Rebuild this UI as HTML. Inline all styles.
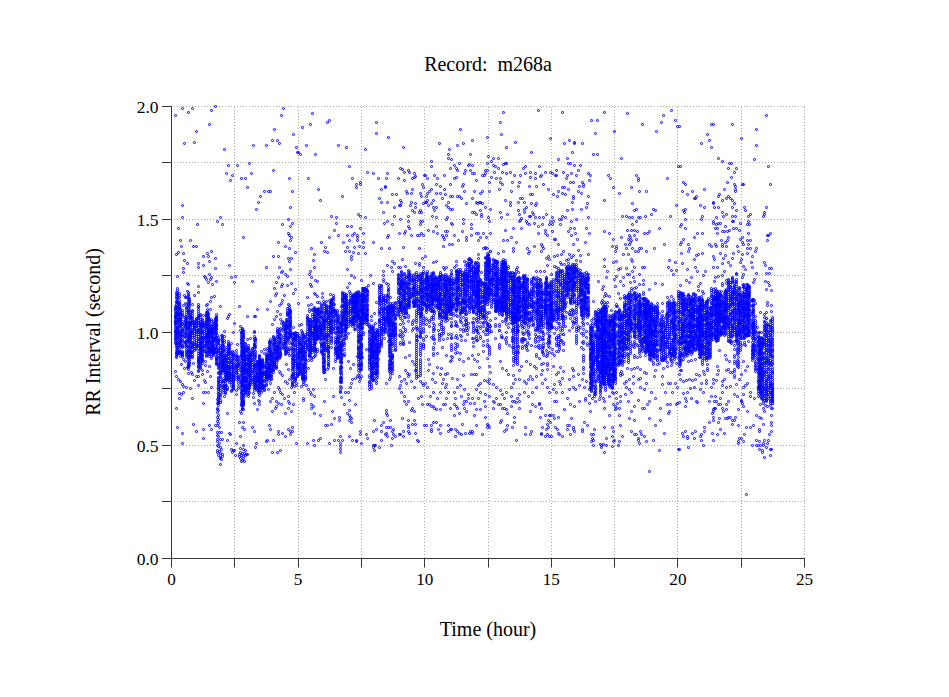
<!DOCTYPE html>
<html><head><meta charset="utf-8"><style>
html,body{margin:0;padding:0;background:#fff;width:949px;height:697px;overflow:hidden}
svg{display:block}
text{font-family:"Liberation Serif",serif;fill:#000}
</style></head><body>
<svg width="949" height="697" viewBox="0 0 949 697">
<defs><marker id="m" markerWidth="4" markerHeight="4" refX="1.5" refY="1.5" markerUnits="userSpaceOnUse" overflow="visible"><circle cx="2" cy="2" r="1.05" fill="none" stroke="#00f" stroke-width="1"/></marker></defs>
<rect width="949" height="697" fill="#fff"/>
<path d="M234.5 558V106M298.5 558V106M361.5 558V106M424.5 558V106M488.5 558V106M551.5 558V106M614.5 558V106M677.5 558V106M741.5 558V106M804.5 558V106M171 501.5H805M171 445.5H805M171 388.5H805M171 332.5H805M171 275.5H805M171 219.5H805M171 162.5H805M171 106.5H805" stroke="#aaa" stroke-width="1" stroke-dasharray="1 2" fill="none"/>
<polyline points="175,306 175,308 175,309 175,311 175,313 175,315 175,316 175,317 175,318 175,320 175,321 175,322 175,323 175,324 175,326 175,328 175,330 175,331 175,332 175,334 175,336 175,338 175,339 175,341 175,343 176,292 176,294 176,296 176,298 176,301 176,302 176,304 176,306 176,308 176,310 176,312 176,313 176,314 176,315 176,317 176,319 176,321 176,323 176,325 176,327 176,329 176,332 176,333 176,334 176,335 176,336 176,338 176,341 176,343 176,345 176,347 176,350 176,352 176,353 176,354 176,356 176,357 177,288 177,292 177,294 177,295 177,297 177,298 177,301 177,302 177,305 177,307 177,308 177,309 177,311 177,312 177,314 177,315 177,317 177,320 177,321 177,323 177,327 177,328 177,329 177,331 177,332 177,334 177,335 177,337 177,338 177,340 177,342 177,343 177,345 177,347 177,348 177,350 177,352 177,353 177,354 179,293 179,295 179,297 179,300 179,302 179,303 179,304 179,305 179,306 179,308 179,309 179,311 179,313 179,314 179,315 179,317 179,318 179,319 179,320 179,321 179,323 179,325 179,326 179,329 179,330 179,332 179,333 179,335 179,337 179,340 179,342 179,343 179,345 179,346 179,350 179,351 179,352 179,353 180,308 180,310 180,312 180,313 180,314 180,316 180,318 180,319 180,320 180,321 180,322 180,324 180,325 180,326 180,332 180,333 180,335 180,336 180,338 180,339 180,340 180,342 180,343 180,345 180,347 180,351 180,352 180,353 180,356 182,310 182,312 182,314 182,315 182,317 182,321 182,323 182,324 182,326 182,328 182,329 182,330 182,331 182,332 182,334 182,335 182,336 182,338 182,340 182,341 182,343 182,345 182,346 182,347 182,351 182,352 182,353 182,354 182,355 182,356 185,316 185,318 185,320 185,321 185,322 185,324 185,325 185,326 185,327 185,329 185,331 185,333 185,334 185,336 185,337 185,341 185,342 185,343 185,346 186,304 186,307 186,308 186,310 186,312 186,314 186,316 186,318 186,319 186,320 186,322 186,323 186,324 186,326 186,327 186,329 186,331 186,333 186,335 186,338 186,341 186,342 186,344 186,345 186,347 186,349 186,351 186,352 186,354 186,355 186,357 188,292 188,294 188,295 188,297 188,298 188,300 188,302 188,304 188,305 188,306 188,308 188,310 188,311 188,313 188,317 188,322 188,323 188,326 188,327 188,328 188,329 188,333 188,335 188,336 188,338 188,339 188,340 188,341 188,346 188,347 188,350 188,351 188,353 188,354 188,356 188,357 188,359 188,361 188,363 188,364 188,365 188,366 188,367 189,298 189,300 189,301 189,302 189,304 189,306 189,309 189,311 189,313 189,315 189,316 189,318 189,321 189,322 189,324 189,326 189,328 189,330 189,332 189,334 189,336 189,338 189,339 189,340 189,341 189,343 189,346 189,350 189,351 189,352 189,356 189,358 189,360 189,362 189,363 189,365 190,312 190,314 190,316 190,317 190,318 190,320 190,322 190,323 190,324 190,325 190,327 190,329 190,331 190,332 190,333 190,334 190,336 190,337 190,338 190,339 190,340 190,342 190,343 190,345 190,347 190,348 190,351 190,352 190,354 190,355 190,357 192,310 192,311 192,313 192,315 192,317 192,318 192,320 192,321 192,322 192,323 192,325 192,329 192,330 192,332 192,333 192,335 192,337 192,342 192,343 192,345 192,346 192,347 192,349 192,351 192,352 192,354 192,356 192,357 194,321 194,322 194,323 194,324 194,325 194,326 194,327 194,328 194,329 194,331 194,333 194,335 194,337 194,339 194,341 194,343 194,344 194,346 194,348 194,350 196,318 196,319 196,320 196,322 196,323 196,325 196,326 196,328 196,330 196,331 196,332 196,334 196,336 196,340 196,342 196,344 196,345 196,346 196,348 198,304 198,306 198,307 198,309 198,311 198,313 198,315 198,316 198,317 198,318 198,320 198,322 198,323 198,325 198,327 198,329 198,330 198,331 198,332 198,334 198,336 198,338 198,339 198,341 198,343 198,345 198,346 198,348 198,351 198,353 198,355 198,357 198,358 198,359 198,360 198,361 198,362 198,363 198,365 198,366 198,367 198,370 198,371 200,314 200,315 200,317 200,319 200,321 200,323 200,324 200,325 200,326 200,329 200,331 200,332 200,334 200,335 200,338 200,340 200,342 200,343 200,344 200,345 200,346 200,347 200,348 200,349 200,350 200,352 200,353 200,355 200,356 200,357 200,358 200,360 200,361 200,362 200,364 200,365 200,367 201,322 201,323 201,324 201,326 201,327 201,329 201,330 201,332 201,337 201,338 201,340 201,342 201,343 201,345 201,347 201,348 201,349 201,351 201,352 201,354 201,355 201,357 201,359 202,319 202,320 202,322 202,323 202,324 202,326 202,331 202,332 202,335 202,337 202,338 202,339 202,341 202,342 202,344 202,346 202,347 202,349 202,352 202,354 202,355 202,356 202,358 202,359 202,360 202,361 202,363 204,322 204,324 204,325 204,326 204,327 204,329 204,331 204,333 204,335 204,337 204,338 204,339 204,341 204,343 204,345 204,346 204,348 204,350 204,351 206,312 206,314 206,315 206,316 206,318 206,320 206,321 206,323 206,324 206,326 206,328 206,330 206,332 206,334 206,336 206,337 206,339 206,341 206,342 206,344 206,345 206,347 206,348 206,351 206,352 206,353 206,355 206,356 207,309 207,311 207,312 207,314 207,315 207,317 207,318 207,319 207,320 207,321 207,322 207,324 207,326 207,328 207,331 207,333 207,334 207,335 207,337 207,338 207,340 207,341 207,343 208,313 208,314 208,316 208,317 208,319 208,321 208,323 208,327 208,329 208,331 208,332 208,333 208,335 208,336 208,337 208,338 208,340 208,341 208,343 208,344 208,346 208,347 208,348 208,350 208,351 208,352 208,354 209,319 209,320 209,322 209,324 209,325 209,326 209,328 209,329 209,330 209,331 209,332 209,334 209,335 209,336 209,337 209,340 209,341 209,342 209,344 209,347 209,348 209,349 209,351 209,354 209,356 211,319 211,321 211,325 211,326 211,328 211,329 211,331 211,332 211,334 211,335 211,337 211,339 211,341 211,342 211,343 211,344 211,346 211,347 211,349 211,350 211,351 211,352 211,354 212,327 212,329 212,331 212,332 212,333 212,335 212,337 212,338 212,340 212,341 212,343 212,344 212,345 212,346 212,349 212,350 212,352 213,321 213,323 213,324 213,327 213,328 213,330 213,331 213,333 213,337 213,338 213,340 213,341 213,344 213,346 213,347 213,349 213,350 213,352 213,353 213,354 213,355 215,318 215,319 215,321 215,322 215,324 215,325 215,326 215,327 215,328 215,330 215,331 215,333 215,334 215,335 215,337 215,338 215,339 215,341 215,346 215,348 215,349 215,351 215,352 216,314 216,316 216,317 216,318 216,319 216,320 216,321 216,323 216,324 216,325 216,326 216,328 216,329 216,331 216,333 216,337 216,339 216,341 216,343 216,344 216,347 216,348 216,350 216,352 216,353 216,356 216,357 216,358 216,359 216,360 216,362 216,363 216,364 218,337 218,339 218,340 218,341 218,342 218,343 218,345 218,349 218,350 218,351 218,353 218,355 218,357 218,358 218,361 218,363 218,364 218,365 218,367 218,368 218,372 218,373 218,377 218,378 218,380 218,381 218,382 218,384 218,385 218,387 218,388 218,389 218,391 218,393 218,394 218,396 218,397 218,398 218,400 218,402 220,345 220,347 220,348 220,350 220,352 220,353 220,354 220,355 220,357 220,358 220,360 220,361 220,362 220,364 220,365 220,367 220,368 220,370 220,371 220,372 220,373 220,374 220,376 220,377 220,379 220,381 220,383 220,385 220,386 220,388 220,390 220,392 220,394 220,395 220,397 220,400 220,402 222,335 222,337 222,338 222,340 222,341 222,342 222,344 222,345 222,347 222,349 222,351 222,352 222,354 222,355 222,356 222,358 222,360 222,362 222,363 222,364 222,365 222,366 222,367 222,368 222,370 223,345 223,346 223,348 223,349 223,350 223,351 223,353 223,355 223,356 223,358 223,359 223,360 223,361 223,362 223,364 223,365 223,367 223,368 223,369 223,370 223,371 223,373 223,378 223,380 223,381 223,383 223,385 223,386 223,387 223,388 223,390 223,392 225,355 225,356 225,358 225,359 225,360 225,361 225,362 225,364 225,365 225,367 225,368 225,370 225,372 225,373 225,375 225,376 225,379 225,381 225,383 225,385 225,386 225,387 225,388 225,390 225,392 225,393 226,347 226,349 226,351 226,353 226,355 226,357 226,359 226,361 226,363 226,365 226,366 226,368 226,370 226,371 226,372 226,373 226,374 226,375 226,377 226,378 226,379 226,380 226,385 226,389 228,343 228,344 228,345 228,347 228,349 228,351 228,352 228,353 228,354 228,356 228,358 228,360 228,362 228,364 228,366 228,367 228,368 228,370 228,372 228,373 228,374 228,375 228,376 228,377 228,378 228,380 229,345 229,346 229,348 229,349 229,351 229,353 229,354 229,358 229,362 229,366 229,368 229,369 229,371 229,372 229,373 229,375 229,377 229,378 229,380 229,382 231,352 231,353 231,356 231,358 231,360 231,361 231,362 231,364 231,366 231,367 231,369 231,371 231,373 231,374 231,376 231,377 231,379 231,380 231,382 231,384 231,386 231,390 231,391 233,352 233,354 233,355 233,356 233,358 233,359 233,361 233,363 233,364 233,366 233,367 233,368 233,369 233,371 233,372 233,374 233,375 233,376 233,377 233,378 233,379 233,380 233,381 233,382 233,384 233,385 233,386 233,387 233,388 233,389 236,350 236,353 236,355 236,356 236,357 236,359 236,360 236,362 236,364 236,365 236,366 236,367 236,368 236,370 236,371 236,372 236,373 236,375 236,377 236,379 238,356 238,357 238,359 238,360 238,362 238,363 238,364 238,365 238,366 238,368 238,370 238,374 238,376 238,377 238,378 238,379 238,381 238,383 238,386 238,388 241,332 241,333 241,335 241,337 241,339 241,340 241,342 241,343 241,345 241,347 241,350 241,352 241,354 241,355 241,356 241,358 241,360 241,362 241,363 241,365 241,367 241,368 241,370 241,371 241,373 241,375 241,376 241,378 241,380 241,381 241,382 241,383 241,385 241,386 241,388 241,390 241,392 241,393 241,395 241,397 241,399 241,402 241,404 241,405 242,328 242,329 242,331 242,333 242,335 242,337 242,339 242,341 242,343 242,344 242,345 242,347 242,348 242,350 242,351 242,352 242,354 242,355 242,356 242,358 242,359 242,361 242,365 242,367 242,368 242,369 242,371 242,373 242,375 242,378 242,379 242,381 242,383 242,385 242,387 242,389 242,390 242,393 242,395 242,396 242,397 242,399 242,400 242,401 242,403 242,405 242,408 242,409 243,330 243,331 243,333 243,334 243,335 243,336 243,337 243,338 243,341 243,342 243,346 243,347 243,348 243,349 243,352 243,353 243,354 243,356 243,357 243,359 243,361 243,363 243,365 243,367 243,369 243,371 243,373 243,377 243,379 243,380 243,382 243,385 243,386 243,388 243,390 243,392 243,394 243,395 243,397 243,399 243,401 243,402 243,404 244,347 244,349 244,351 244,352 244,354 244,355 244,356 244,357 244,359 244,360 244,362 244,364 244,365 244,367 244,369 244,371 244,372 244,375 244,377 244,378 244,379 244,380 244,381 244,383 244,385 244,386 244,388 244,389 245,343 245,344 245,346 245,350 245,351 245,355 245,357 245,359 245,363 245,364 245,365 245,367 245,369 245,370 245,374 245,376 245,377 245,379 245,380 245,381 245,384 245,386 245,387 245,388 245,389 245,390 245,391 245,392 245,393 245,395 246,347 246,348 246,350 246,351 246,353 246,355 246,357 246,359 246,361 246,363 246,364 246,368 246,369 246,371 246,372 246,373 246,377 246,378 246,380 246,381 246,383 246,385 246,386 246,388 246,389 248,345 248,347 248,348 248,349 248,351 248,354 248,356 248,358 248,359 248,360 248,362 248,363 248,365 248,366 248,368 248,369 248,370 248,371 248,372 248,373 248,374 248,375 248,377 248,379 248,381 248,383 248,385 248,387 248,388 248,390 248,391 248,393 248,394 248,396 249,350 249,352 249,354 249,356 249,357 249,359 249,360 249,361 249,362 249,364 249,365 249,366 249,368 249,370 249,371 249,373 249,374 249,375 249,376 249,380 249,382 249,383 249,384 249,385 249,386 249,387 249,388 249,392 250,353 250,354 250,355 250,356 250,357 250,359 250,361 250,362 250,364 250,365 250,366 250,367 250,369 250,370 250,371 250,374 250,377 250,378 250,380 250,382 252,348 252,349 252,351 252,352 252,354 252,355 252,357 252,359 252,360 252,362 252,364 252,367 252,369 252,371 252,372 252,375 252,377 252,379 252,380 252,382 252,384 254,331 254,332 254,336 254,338 254,340 254,343 254,344 254,345 254,346 254,347 254,349 254,352 254,354 254,355 254,357 254,359 254,364 254,365 254,366 254,368 254,369 254,371 254,373 254,376 254,378 254,380 254,381 254,382 254,384 254,386 254,388 254,390 255,338 255,339 255,340 255,342 255,345 255,347 255,351 255,353 255,355 255,357 255,360 255,362 255,364 255,366 255,368 255,370 255,372 255,374 255,376 255,377 255,378 255,380 255,382 255,383 255,384 255,386 255,388 257,361 257,363 257,364 257,365 257,367 257,369 257,371 257,373 257,374 257,375 257,377 257,379 257,380 257,381 257,383 257,385 257,386 257,388 257,390 258,361 258,362 258,363 258,365 258,367 258,368 258,370 258,372 258,373 258,376 258,377 258,378 258,379 258,381 258,384 258,385 258,387 258,388 258,390 258,392 259,355 259,356 259,357 259,358 259,359 259,360 259,361 259,362 259,364 259,366 259,367 259,369 259,370 259,374 259,375 259,377 259,379 259,381 259,382 259,384 259,387 259,388 259,390 259,391 259,393 259,395 260,361 260,362 260,363 260,364 260,365 260,367 260,369 260,370 260,373 260,374 260,377 260,379 260,380 260,381 260,382 260,384 261,360 261,362 261,363 261,364 261,365 261,366 261,368 261,369 261,372 261,373 261,375 261,376 261,377 261,378 261,380 261,383 261,384 261,385 261,386 261,388 262,359 262,360 262,361 262,362 262,364 262,365 262,366 262,368 262,370 262,372 262,373 262,374 262,375 262,380 262,381 262,382 262,384 262,385 262,387 262,388 262,390 264,363 264,365 264,366 264,367 264,371 264,372 264,373 264,374 264,376 264,378 264,380 264,381 264,385 264,386 264,387 264,389 264,390 266,355 266,356 266,358 266,359 266,360 266,361 266,363 266,367 266,368 266,370 266,371 266,372 266,374 266,375 266,376 266,377 266,379 266,380 266,382 266,384 266,385 267,348 267,350 267,353 267,354 267,356 267,357 267,358 267,359 267,362 267,363 267,365 267,366 267,368 267,369 267,371 267,372 267,374 267,375 267,377 267,378 269,341 269,342 269,343 269,345 269,347 269,348 269,350 269,351 269,355 269,356 269,358 269,359 269,361 269,363 269,364 269,365 269,366 269,367 269,368 269,369 269,371 269,373 269,374 269,375 269,376 269,377 269,378 269,380 270,339 270,341 270,342 270,343 270,345 270,347 270,349 270,350 270,351 270,352 270,353 270,355 270,357 270,359 270,360 270,364 270,365 270,367 270,369 270,371 270,372 270,376 271,352 271,354 271,355 271,357 271,359 271,360 271,362 271,363 271,365 271,367 271,369 271,370 271,371 271,373 271,375 271,376 271,378 271,379 273,336 273,337 273,339 273,341 273,343 273,344 273,345 273,347 273,349 273,351 273,353 273,355 273,357 273,358 273,361 273,362 273,363 273,365 273,366 273,368 273,369 273,370 273,372 274,338 274,339 274,340 274,342 274,343 274,345 274,347 274,349 274,350 274,352 274,353 274,355 274,357 274,359 274,360 274,362 274,363 274,364 274,365 274,366 276,338 276,340 276,342 276,344 276,346 276,347 276,348 276,350 276,352 276,353 276,357 276,358 276,360 276,362 276,364 276,366 276,367 276,368 277,328 277,330 277,331 277,332 277,334 277,336 277,337 277,341 277,343 277,345 277,346 277,347 277,349 277,350 277,351 277,352 277,354 277,355 277,356 277,357 277,358 279,329 279,331 279,333 279,334 279,335 279,337 279,338 279,340 279,342 279,343 279,345 279,347 279,348 279,350 279,353 279,355 279,357 279,358 280,328 280,330 280,334 280,336 280,338 280,339 280,341 280,342 280,344 280,346 280,348 280,350 280,352 280,353 280,354 280,355 280,356 283,322 283,323 283,325 283,326 283,328 283,329 283,331 283,335 283,337 283,339 283,341 283,343 283,344 283,345 283,347 283,348 285,324 285,326 285,328 285,329 285,330 285,332 285,334 285,335 285,337 285,339 285,341 285,342 285,343 285,344 285,347 285,348 285,350 285,351 285,353 285,354 286,319 286,321 286,322 286,324 286,325 286,326 286,327 286,328 286,329 286,332 286,333 286,336 286,337 286,338 286,340 286,342 286,345 286,347 286,349 286,351 286,352 287,308 287,310 287,312 287,313 287,314 287,315 287,319 287,321 287,323 287,325 287,326 287,328 287,332 287,334 289,305 289,307 289,309 289,310 289,312 289,314 289,315 289,317 289,319 289,321 289,323 289,325 289,326 289,328 289,330 289,332 289,333 289,334 290,310 290,311 290,312 290,313 290,315 290,317 290,318 290,320 290,321 290,322 290,323 290,324 290,325 290,326 290,328 290,330 290,331 290,333 290,334 290,335 290,336 288,337 288,339 288,349 288,351 288,353 289,337 289,341 289,343 289,347 289,349 289,355 292,333 292,335 292,337 292,339 292,342 292,343 292,344 292,346 292,348 292,349 292,350 292,352 292,354 292,356 292,358 292,359 292,361 292,363 292,365 292,367 292,369 292,371 292,374 292,375 292,377 292,378 292,380 292,382 292,383 292,384 292,385 293,333 293,334 293,336 293,338 293,339 293,340 293,343 293,345 293,349 293,351 293,353 293,355 293,356 293,358 293,359 293,361 293,363 293,364 293,366 293,367 293,369 293,373 293,374 293,375 293,377 295,332 295,333 295,334 295,335 295,336 295,337 295,338 295,339 295,340 295,341 295,344 295,345 295,347 295,349 295,350 295,353 295,355 295,356 295,358 295,360 295,361 295,363 295,365 295,367 295,371 295,373 295,377 295,378 295,379 295,380 297,333 297,335 297,336 297,338 297,340 297,342 297,344 297,346 297,348 297,350 297,352 297,353 297,355 297,356 297,358 297,359 297,362 297,363 297,364 297,365 297,366 297,367 297,368 297,369 297,371 297,373 297,374 297,375 297,376 299,335 299,337 299,338 299,340 299,342 299,343 299,345 299,347 299,349 299,350 299,351 299,352 299,353 299,354 299,356 299,357 299,359 299,361 299,363 299,365 299,366 299,368 299,369 299,371 299,372 299,373 299,374 300,340 300,343 300,344 300,346 300,348 300,349 300,350 300,352 300,353 300,355 300,357 300,359 300,361 300,363 300,364 300,366 300,367 300,369 300,371 300,373 302,332 302,333 302,335 302,337 302,338 302,340 302,341 302,343 302,345 302,346 302,348 302,350 302,351 302,352 302,354 302,355 302,356 302,358 302,359 302,361 302,364 302,368 302,370 302,372 302,374 302,375 302,376 302,377 302,378 302,379 303,335 303,336 303,338 303,342 303,344 303,346 303,347 303,348 303,350 303,352 303,353 303,355 303,356 303,358 303,360 303,364 303,365 303,366 303,367 303,368 303,370 303,372 303,373 303,375 303,377 303,378 303,380 303,382 305,334 305,336 305,337 305,339 305,341 305,342 305,343 305,345 305,347 305,349 305,351 305,352 305,353 305,355 305,356 305,358 305,359 305,360 305,362 305,363 305,364 305,366 305,367 305,368 305,370 305,371 305,372 305,374 305,376 305,377 305,378 305,379 307,315 307,317 307,318 307,320 307,321 307,323 307,324 307,326 307,329 307,331 307,333 307,334 307,336 307,339 307,340 307,342 307,344 307,345 307,346 307,348 307,349 309,319 309,321 309,322 309,324 309,325 309,326 309,327 309,328 309,329 309,330 309,332 309,334 309,335 309,336 309,338 309,339 309,340 309,341 309,342 309,344 309,346 309,348 309,349 309,350 309,351 309,353 309,354 309,355 309,356 310,319 310,321 310,323 310,325 310,327 310,329 310,330 310,331 310,332 310,333 310,335 310,337 310,339 310,341 310,342 310,344 310,345 310,346 310,347 310,349 310,350 310,351 310,353 310,355 310,357 312,309 312,310 312,314 312,316 312,319 312,321 312,322 312,323 312,325 312,326 312,328 312,330 312,332 312,333 312,334 312,335 312,337 312,338 312,341 312,343 312,345 312,347 312,348 312,350 312,352 314,307 314,308 314,310 314,311 314,313 314,315 314,316 314,318 314,319 314,320 314,321 314,325 314,326 314,327 314,328 314,330 314,332 314,333 314,334 314,335 314,336 314,338 314,339 314,340 314,341 314,343 314,344 314,345 314,346 314,348 314,350 315,309 315,310 315,312 315,314 315,316 315,318 315,320 315,323 315,324 315,325 315,326 315,327 315,328 315,329 315,330 315,331 315,333 315,336 315,338 315,340 315,342 315,343 315,348 315,349 315,350 315,351 315,353 315,355 316,309 316,311 316,312 316,317 316,319 316,321 316,322 316,324 316,326 316,327 316,328 316,330 316,331 316,333 316,334 316,335 316,336 316,337 316,339 317,309 317,310 317,312 317,314 317,315 317,317 317,319 317,321 317,323 317,326 317,327 317,328 317,329 317,331 317,335 317,336 317,337 317,338 317,339 318,308 318,309 318,310 318,312 318,313 318,314 318,316 318,319 318,320 318,322 318,324 318,326 318,329 318,330 318,332 318,333 318,334 318,336 318,337 320,311 320,312 320,314 320,316 320,317 320,321 320,322 320,324 320,325 320,326 320,327 320,328 320,329 320,330 320,331 320,333 320,335 320,338 320,339 320,342 321,304 321,305 321,307 321,308 321,310 321,311 321,312 321,313 321,315 321,317 321,318 321,323 321,325 321,327 321,329 321,330 321,332 321,333 321,334 321,335 321,337 321,339 321,343 321,344 321,345 321,346 321,348 321,350 321,351 321,352 323,317 323,319 323,320 323,321 323,323 323,324 323,326 323,327 323,329 323,332 323,334 323,336 323,338 323,339 323,342 323,344 323,345 323,347 323,348 323,350 323,354 323,355 323,357 323,358 323,359 323,361 323,362 323,363 323,365 323,366 323,367 323,368 323,370 323,372 324,303 324,304 324,306 324,308 324,310 324,312 324,313 324,315 324,316 324,318 324,320 324,321 324,322 324,323 324,325 324,326 324,328 324,329 324,331 324,333 324,335 324,336 324,338 324,342 324,343 324,345 324,346 324,348 324,349 324,350 324,352 324,354 324,356 324,358 324,360 324,361 324,362 324,364 324,366 324,368 324,369 324,370 324,372 326,305 326,306 326,307 326,309 326,310 326,312 326,313 326,315 326,318 326,319 326,320 326,321 326,323 326,326 326,328 326,332 326,334 326,335 326,336 326,337 326,339 326,340 326,342 326,344 326,346 326,348 326,349 326,350 328,307 328,309 328,311 328,312 328,314 328,315 328,316 328,317 328,318 328,320 328,322 328,323 328,324 328,326 328,328 328,330 328,332 328,334 328,335 328,336 328,338 328,340 328,342 328,344 328,346 328,347 328,348 328,350 328,351 328,352 328,353 328,355 328,356 328,357 328,359 328,361 328,363 328,364 328,365 330,302 330,303 330,305 330,307 330,308 330,310 330,312 330,313 330,314 330,315 330,317 330,319 330,320 330,321 330,322 330,323 330,324 330,326 330,328 330,329 330,331 330,332 331,299 331,300 331,301 331,302 331,303 331,305 331,306 331,308 331,309 331,311 331,312 331,313 331,314 331,316 331,318 331,320 331,321 331,323 331,324 331,326 331,327 331,329 331,330 331,332 331,333 331,335 331,337 331,338 331,340 331,341 333,295 333,297 333,298 333,300 333,303 333,304 333,306 333,308 333,309 333,310 333,311 333,312 333,314 333,316 333,317 333,320 333,321 333,324 333,326 333,328 333,329 333,331 335,310 335,311 335,313 335,314 335,315 335,317 335,320 335,321 335,323 335,325 335,328 335,332 335,333 335,337 335,339 335,341 335,342 335,344 335,347 335,348 335,349 335,350 335,352 335,353 335,355 335,359 335,361 337,312 337,315 337,317 337,319 337,321 337,322 337,325 337,327 337,328 337,329 337,331 337,333 337,335 337,337 337,338 337,339 337,340 337,341 337,342 337,343 337,345 337,347 337,348 337,350 337,351 337,352 337,353 337,354 337,356 337,357 337,358 338,315 338,317 338,319 338,320 338,322 338,324 338,327 338,328 338,330 338,331 338,332 338,334 338,336 338,338 338,339 338,341 338,342 338,344 338,346 338,347 338,348 338,349 338,352 338,354 338,355 338,356 338,357 340,322 340,323 340,324 340,326 340,329 340,331 340,332 340,334 340,336 340,337 340,340 340,342 340,344 340,345 340,347 340,349 340,350 340,351 340,353 340,357 340,359 340,361 340,362 340,366 340,368 340,369 340,371 340,373 340,377 340,378 340,380 340,381 340,382 340,386 340,389 340,391 340,392 341,306 341,311 341,314 341,316 341,318 341,321 341,324 341,325 341,326 341,328 341,330 341,332 341,335 341,342 341,344 341,345 341,346 341,347 341,349 341,351 341,353 341,354 341,355 341,357 341,358 341,359 341,361 341,362 341,363 341,366 341,367 341,368 341,371 341,373 341,375 341,377 341,378 341,379 341,381 341,382 342,293 342,295 342,297 342,298 342,299 342,300 342,301 342,303 342,305 342,306 342,308 342,310 342,312 342,313 342,315 342,316 342,318 342,319 342,321 342,322 342,323 342,325 342,328 342,329 342,331 342,332 344,295 344,297 344,298 344,300 344,302 344,304 344,306 344,307 344,309 344,310 344,312 344,313 344,314 344,316 344,317 344,318 344,320 344,322 344,324 344,325 345,294 345,296 345,297 345,299 345,301 345,302 345,304 345,305 345,307 345,308 345,309 345,310 345,311 345,312 345,313 345,315 345,317 345,319 345,320 345,322 345,324 345,325 345,327 345,328 345,329 345,330 345,331 345,332 345,334 345,335 345,337 346,294 346,296 346,297 346,299 346,300 346,302 346,305 346,306 346,307 346,308 346,310 346,311 346,313 346,314 346,316 346,318 346,319 346,320 346,321 346,323 346,324 346,326 346,327 346,328 342,336 342,340 342,346 342,350 343,339 343,343 343,355 344,339 344,343 344,345 344,349 344,353 344,355 348,301 348,303 348,304 348,306 348,308 348,310 348,312 348,313 348,315 348,317 348,319 348,321 348,323 348,326 350,293 350,295 350,297 350,299 350,300 350,301 350,302 350,303 350,306 350,308 350,310 350,311 350,313 350,316 350,319 350,320 350,321 350,322 350,324 352,296 352,297 352,299 352,301 352,302 352,304 352,306 352,307 352,309 352,311 352,312 352,314 352,317 352,319 352,320 352,321 352,322 352,324 352,326 353,294 353,295 353,296 353,297 353,298 353,299 353,301 353,302 353,303 353,304 353,306 353,307 353,308 353,309 353,310 353,313 353,316 353,317 353,318 353,319 353,323 353,324 354,295 354,296 354,297 354,298 354,299 354,300 354,302 354,304 354,305 354,306 354,308 354,310 354,312 354,314 354,316 354,317 354,318 354,320 354,322 355,293 355,295 355,297 355,301 355,302 355,303 355,305 355,307 355,309 355,311 355,312 355,313 355,315 355,317 355,321 355,323 355,325 355,327 355,329 356,292 356,293 356,295 356,296 356,297 356,299 356,300 356,301 356,302 356,303 356,304 356,306 356,307 356,309 356,312 356,313 356,315 356,319 356,321 357,294 357,296 357,298 357,300 357,301 357,303 357,305 357,307 357,308 357,310 357,311 357,313 357,315 357,316 357,317 357,319 358,291 358,292 358,294 358,295 358,296 358,297 358,298 358,300 358,301 358,303 358,304 358,306 358,308 358,310 358,311 358,313 358,314 358,315 358,317 358,318 358,320 358,322 358,324 358,325 358,326 358,327 358,329 358,331 358,333 358,335 358,336 358,337 358,339 358,340 358,341 358,342 358,344 358,346 358,347 358,348 358,349 358,350 358,352 358,353 358,354 358,356 358,357 358,359 358,361 358,364 358,365 358,367 358,370 360,293 360,295 360,296 360,298 360,300 360,302 360,305 360,306 360,308 360,310 360,312 360,314 360,316 360,318 360,319 360,320 360,322 360,323 360,324 360,326 360,327 360,329 360,331 360,333 360,335 360,336 360,337 360,339 360,341 360,342 360,347 360,348 360,350 360,352 360,354 360,355 360,357 360,358 360,360 360,362 360,364 360,365 360,366 360,368 360,369 360,370 361,294 361,296 361,298 361,300 361,301 361,302 361,304 361,305 361,308 361,309 361,310 361,312 361,313 361,316 361,317 361,319 361,320 361,322 361,323 361,324 361,326 361,328 361,330 361,334 361,335 361,336 361,338 361,339 361,343 361,344 361,345 361,346 361,347 361,348 361,350 361,352 361,353 361,354 361,356 361,357 361,358 361,361 361,363 361,364 361,365 361,367 361,369 362,288 362,290 362,292 362,294 362,296 362,298 362,301 362,305 362,307 362,308 362,310 362,312 362,314 362,315 362,316 362,317 362,319 362,321 362,322 362,323 362,325 362,327 362,328 363,288 363,289 363,290 363,293 363,294 363,295 363,296 363,298 363,299 363,301 363,303 363,305 363,307 363,308 363,309 363,310 363,312 363,313 363,314 363,316 363,318 363,320 363,323 364,290 364,291 364,293 364,295 364,297 364,298 364,300 364,301 364,303 364,305 364,307 364,309 364,311 364,313 364,315 364,316 364,317 364,319 364,320 364,322 366,287 366,289 366,290 366,291 366,295 366,296 366,298 366,299 366,301 366,303 366,305 366,307 366,309 366,310 366,312 366,313 366,314 366,315 366,317 366,318 366,319 366,320 366,322 366,324 367,290 367,291 367,292 367,294 367,295 367,297 367,299 367,301 367,304 367,305 367,307 367,309 367,310 367,312 367,314 367,315 367,317 367,319 367,320 367,322 369,326 369,327 369,330 369,331 369,332 369,334 369,336 369,338 369,339 369,341 369,342 369,344 369,345 369,347 369,348 369,349 369,350 369,351 369,353 369,355 369,356 369,358 369,359 369,360 369,362 369,363 369,365 369,367 369,369 369,375 369,377 369,381 369,382 369,384 369,386 371,326 371,328 371,329 371,333 371,335 371,337 371,339 371,340 371,342 371,343 371,344 371,345 371,346 371,348 371,349 371,350 371,351 371,352 371,353 371,354 371,355 371,356 371,357 371,358 371,360 371,361 371,363 371,364 371,365 371,366 371,367 371,368 371,369 371,371 371,372 371,373 371,375 371,376 371,378 371,379 371,381 371,384 371,386 371,388 372,327 372,329 372,331 372,333 372,334 372,336 372,338 372,339 372,340 372,341 372,342 372,346 372,347 372,348 372,350 372,351 372,352 372,353 372,354 372,356 372,357 372,359 372,364 372,365 372,366 372,368 372,370 372,372 372,373 372,374 372,376 372,378 373,332 373,336 373,338 373,340 373,342 373,344 373,346 373,347 373,349 373,350 373,351 373,352 373,355 373,356 373,357 373,362 373,363 373,365 373,366 373,367 373,369 373,373 373,379 373,380 374,332 374,334 374,335 374,337 374,338 374,340 374,343 374,344 374,346 374,348 374,350 374,351 374,352 374,353 374,355 374,357 374,359 374,360 374,363 374,364 374,366 374,368 374,370 374,372 374,373 374,375 374,378 376,332 376,333 376,335 376,336 376,337 376,339 376,340 376,342 376,344 376,346 376,347 376,349 376,350 376,351 376,353 376,354 376,356 376,357 376,358 376,360 376,362 376,363 376,365 376,366 376,369 376,371 376,372 376,373 376,374 376,378 376,381 377,330 377,331 377,332 377,334 377,336 377,338 377,340 377,342 377,344 377,345 377,346 377,347 377,348 377,350 377,351 377,352 377,354 377,355 377,357 377,358 377,360 377,362 377,363 377,365 377,366 377,367 377,369 377,370 377,372 377,373 377,375 377,377 379,285 379,287 379,288 379,290 379,292 379,294 379,296 379,297 379,298 379,299 379,300 379,301 379,303 379,304 379,307 379,309 379,311 379,312 379,313 379,315 379,319 379,320 379,321 379,322 379,324 379,326 379,328 379,330 379,332 379,334 379,335 379,337 379,339 379,341 379,343 379,344 379,345 379,347 379,348 379,350 379,351 381,285 381,286 381,288 381,290 381,292 381,294 381,296 381,298 381,300 381,301 381,303 381,305 381,308 381,309 381,311 381,313 381,316 381,318 381,320 381,323 381,325 381,327 381,328 381,330 381,331 381,333 381,334 381,336 381,338 381,340 381,341 381,343 381,344 381,346 383,295 383,297 383,298 383,299 383,300 383,302 383,304 383,306 383,308 383,309 383,310 383,312 383,313 383,315 383,316 383,317 383,318 383,319 383,321 383,323 383,324 383,326 383,328 383,329 383,330 383,331 383,334 385,295 385,298 385,300 385,301 385,303 385,306 385,308 385,309 385,311 385,313 385,315 385,317 385,318 385,319 385,320 385,321 385,322 385,324 385,325 385,327 385,328 385,329 385,331 385,332 387,295 387,296 387,299 387,302 387,306 387,308 387,310 387,311 387,312 387,313 387,314 387,316 387,317 387,318 387,322 388,287 388,289 388,290 388,292 388,294 388,296 388,298 388,300 388,303 388,306 388,308 388,309 388,311 388,312 388,313 388,315 388,316 388,317 388,318 388,319 388,320 388,321 388,322 388,323 388,325 388,326 388,329 388,331 388,333 389,306 389,308 389,309 389,312 389,313 389,315 389,317 389,319 389,320 389,321 389,322 389,324 389,325 389,327 389,329 389,330 389,332 389,334 389,335 389,337 389,339 389,341 389,344 389,345 389,346 389,348 389,349 389,351 389,352 389,354 389,356 389,360 389,362 389,364 389,365 389,367 389,368 389,369 389,371 390,303 390,305 390,306 390,308 390,309 390,310 390,312 390,313 390,315 390,317 390,318 390,320 390,322 390,323 390,325 390,327 390,331 390,333 390,334 390,335 390,336 390,338 390,339 390,341 390,342 390,344 390,345 390,348 390,350 390,352 390,353 390,355 390,356 390,357 390,359 390,360 390,361 390,363 390,364 390,366 390,368 390,370 390,372 390,374 390,377 392,303 392,305 392,307 392,308 392,309 392,310 392,311 392,313 392,315 392,318 392,320 392,322 392,323 392,325 392,326 392,328 392,329 392,330 392,332 392,333 392,335 392,337 392,339 392,341 392,343 392,344 392,346 392,350 392,354 392,355 392,356 392,357 392,358 392,360 392,362 392,363 392,364 392,366 392,367 392,369 392,370 392,373 393,305 393,306 393,307 393,309 393,311 393,313 393,315 393,317 393,319 393,321 393,323 393,324 393,325 393,327 393,329 393,330 393,331 393,333 393,335 393,336 395,303 395,305 395,307 395,308 395,310 395,312 395,314 395,315 395,317 395,318 395,319 395,323 395,324 395,326 395,327 395,328 395,329 395,330 395,332 395,333 395,334 395,335 395,337 395,339 395,341 395,343 395,345 395,347 395,349 395,350 398,274 398,275 398,277 398,278 398,279 398,280 398,282 398,283 398,284 398,287 398,289 398,290 398,292 398,293 398,297 398,299 398,301 398,302 398,304 398,306 398,308 398,309 398,311 398,312 398,314 398,315 400,279 400,283 400,284 400,285 400,287 400,288 400,290 400,292 400,293 400,294 400,296 400,298 400,300 400,302 400,303 400,304 400,305 400,306 400,307 400,308 400,310 401,271 401,272 401,274 401,275 401,276 401,278 401,280 401,281 401,282 401,283 401,285 401,286 401,287 401,288 401,289 401,291 401,295 401,297 401,301 401,302 401,304 401,305 401,307 401,309 401,310 403,279 403,281 403,282 403,284 403,286 403,289 403,290 403,292 403,294 403,295 403,298 403,299 403,301 403,303 403,305 403,307 403,309 404,273 404,274 404,276 404,278 404,280 404,282 404,283 404,284 404,286 404,289 404,290 404,291 404,292 404,294 404,295 404,296 404,297 404,298 404,299 404,300 404,302 404,304 404,306 404,307 404,308 404,309 404,310 406,276 406,277 406,279 406,282 406,283 406,285 406,286 406,287 406,288 406,290 406,292 406,293 406,295 406,299 406,300 406,302 406,304 406,305 406,306 406,308 406,309 406,311 406,312 406,313 400,312 400,316 400,318 400,324 400,330 400,334 400,336 400,342 400,344 403,311 403,313 403,315 403,323 403,327 403,335 403,341 403,343 408,274 408,276 408,277 408,281 408,283 408,284 408,287 408,288 408,290 408,292 408,294 408,296 408,298 408,299 408,300 408,302 408,304 408,305 409,271 409,273 409,274 409,276 409,277 409,279 409,280 409,282 409,284 409,288 409,290 409,292 409,294 409,296 409,297 409,298 409,300 409,301 409,302 409,304 409,305 409,307 411,275 411,277 411,279 411,280 411,283 411,287 411,289 411,291 411,293 411,294 411,296 411,297 413,275 413,277 413,279 413,280 413,281 413,284 413,287 413,288 413,289 413,291 413,293 413,294 413,295 413,300 413,301 413,302 413,303 413,306 414,274 414,278 414,280 414,282 414,284 414,286 414,287 414,288 414,289 414,291 414,293 414,295 414,297 414,299 414,301 414,302 414,303 414,304 414,305 414,306 416,272 416,274 416,276 416,277 416,279 416,281 416,283 416,285 416,287 416,290 416,291 416,292 416,293 416,294 416,296 416,298 416,299 416,300 416,301 416,302 416,303 416,305 416,306 416,310 416,312 416,314 416,316 416,318 416,320 416,322 416,326 416,328 416,334 416,336 416,338 416,340 416,342 416,344 416,346 416,348 416,350 416,352 416,354 416,356 416,358 416,360 416,362 416,364 416,366 416,368 416,370 416,372 416,374 416,376 416,378 420,307 420,309 420,311 420,313 420,315 420,317 420,319 420,321 420,323 420,325 420,327 420,329 420,331 420,333 420,335 420,337 420,343 420,345 420,347 420,349 420,351 420,353 420,355 420,359 420,361 420,363 420,365 420,367 420,369 420,371 420,373 420,375 418,275 418,276 418,279 418,280 418,286 418,288 418,290 418,292 418,293 418,294 418,298 418,300 418,301 418,303 418,305 418,306 418,308 418,309 418,311 418,313 420,273 420,275 420,276 420,278 420,279 420,282 420,283 420,285 420,287 420,289 420,290 420,291 420,295 420,297 420,300 420,303 420,305 420,307 421,278 421,280 421,281 421,283 421,284 421,286 421,288 421,289 421,291 421,292 421,293 421,295 421,297 421,298 421,300 421,302 421,304 421,308 421,310 421,312 421,313 421,314 421,315 422,273 422,274 422,276 422,277 422,281 422,283 422,285 422,287 422,289 422,291 422,292 422,294 422,296 422,297 422,299 422,301 422,302 422,304 422,306 422,308 422,309 424,279 424,280 424,282 424,283 424,285 424,287 424,288 424,289 424,291 424,292 424,294 424,295 424,297 424,298 424,301 424,302 424,303 424,304 424,305 423,318 423,320 423,322 423,324 423,330 423,332 423,338 423,340 423,344 423,346 423,348 426,273 426,275 426,276 426,277 426,278 426,279 426,281 426,283 426,285 426,287 426,288 426,289 426,291 426,293 426,294 426,295 426,297 426,299 426,302 426,304 426,306 426,307 426,309 426,310 426,312 427,271 427,273 427,276 427,277 427,278 427,279 427,280 427,281 427,282 427,283 427,285 427,287 427,289 427,290 427,293 427,294 427,295 427,296 427,298 427,299 427,300 427,304 427,306 427,307 428,276 428,278 428,279 428,281 428,283 428,284 428,285 428,287 428,290 428,292 428,294 428,296 428,298 428,300 428,301 428,303 428,305 428,306 428,307 428,309 430,277 430,279 430,281 430,283 430,285 430,286 430,287 430,288 430,290 430,292 430,293 430,295 430,296 430,298 430,301 430,302 430,304 430,305 430,307 430,308 430,310 431,273 431,275 431,276 431,278 431,280 431,283 431,284 431,287 431,288 431,290 431,291 431,292 431,293 431,295 431,296 431,297 431,298 431,300 431,302 431,304 432,274 432,276 432,278 432,280 432,281 432,282 432,283 432,285 432,286 432,287 432,288 432,289 432,290 432,292 432,294 432,297 432,299 432,300 432,302 432,303 432,304 432,308 432,310 432,311 433,272 433,273 433,274 433,278 433,279 433,282 433,284 433,285 433,286 433,287 433,289 433,290 433,291 433,293 433,295 433,296 433,298 433,299 433,300 433,301 433,304 433,306 435,276 435,277 435,278 435,279 435,280 435,282 435,283 435,284 435,285 435,287 435,288 435,290 435,291 435,292 435,293 435,294 435,296 435,297 435,298 435,299 436,278 436,280 436,281 436,283 436,284 436,285 436,286 436,288 436,289 436,290 436,292 436,294 436,296 436,298 436,299 436,300 436,301 436,303 436,305 436,306 436,307 438,277 438,279 438,281 438,283 438,284 438,285 438,286 438,288 438,290 438,292 438,294 438,296 438,297 438,299 438,301 438,302 438,304 438,306 438,307 438,308 438,310 433,309 433,311 433,315 433,317 433,319 433,323 433,327 433,329 433,331 433,335 433,337 433,339 433,347 433,349 433,353 433,355 439,276 439,277 439,278 439,280 439,281 439,283 439,285 439,287 439,288 439,289 439,293 439,295 439,296 439,298 439,299 439,301 439,302 439,303 439,304 439,305 439,307 439,308 439,312 439,313 439,314 439,315 439,316 439,318 440,272 440,274 440,276 440,277 440,279 440,280 440,282 440,284 440,287 440,289 440,291 440,293 440,294 440,295 440,297 440,299 440,301 440,303 440,304 440,305 440,306 440,308 440,309 440,314 440,315 440,317 442,275 442,276 442,278 442,279 442,281 442,283 442,284 442,286 442,287 442,289 442,290 442,292 442,294 442,296 442,298 442,299 442,300 442,301 442,303 442,304 442,306 442,308 442,310 442,311 442,312 442,314 442,316 442,317 442,319 444,276 444,279 444,280 444,283 444,285 444,286 444,289 444,291 444,293 444,295 444,296 444,297 444,300 444,302 444,304 444,306 444,310 444,311 444,313 445,274 445,276 445,278 445,280 445,282 445,283 445,284 445,285 445,287 445,288 445,290 445,293 445,294 445,296 445,298 445,300 445,303 445,304 445,305 445,307 445,309 445,313 445,314 445,316 445,317 445,318 445,321 446,275 446,277 446,279 446,280 446,281 446,284 446,285 446,287 446,288 446,289 446,290 446,291 446,292 446,294 446,296 446,298 446,300 446,302 446,303 446,304 446,305 446,307 446,308 446,311 446,312 446,313 446,315 446,316 446,317 446,318 439,324 439,334 439,336 441,321 441,323 441,325 441,327 441,329 441,333 441,335 443,327 443,329 443,331 443,333 443,339 448,277 448,279 448,280 448,281 448,283 448,284 448,286 448,288 448,290 448,291 448,292 448,294 448,295 448,297 448,299 448,300 448,301 448,303 448,305 448,306 448,307 448,308 448,309 448,310 448,311 448,312 448,314 449,276 449,278 449,279 449,280 449,281 449,282 449,284 449,285 449,287 449,289 449,291 449,293 449,297 449,298 449,299 449,301 449,302 449,303 449,304 449,306 449,307 449,308 449,310 449,311 450,279 450,281 450,285 450,288 450,289 450,293 450,294 450,295 450,297 450,299 450,301 450,302 450,304 450,306 450,308 450,309 450,310 450,312 450,314 451,273 451,274 451,277 451,280 451,281 451,283 451,284 451,286 451,288 451,290 451,292 451,294 451,296 451,298 451,301 451,303 451,304 451,306 451,307 451,309 453,278 453,280 453,282 453,283 453,284 453,286 453,288 453,289 453,291 453,293 453,294 453,295 453,297 453,299 453,301 453,303 453,304 453,305 453,306 453,307 453,309 453,313 453,315 451,312 451,314 451,318 451,322 451,326 451,334 451,338 451,344 451,346 451,348 451,350 451,356 451,360 455,321 455,325 455,337 455,343 455,347 455,349 455,353 457,316 457,326 457,338 457,344 457,346 457,352 460,313 460,319 460,321 460,329 460,335 460,353 456,270 456,271 456,272 456,274 456,276 456,278 456,279 456,280 456,282 456,283 456,285 456,287 456,289 456,290 456,292 456,293 456,295 456,297 456,298 456,299 456,300 456,302 456,303 456,304 456,307 456,309 456,310 456,311 457,271 457,273 457,274 457,275 457,276 457,277 457,278 457,279 457,280 457,281 457,282 457,284 457,286 457,287 457,288 457,290 457,291 457,295 457,297 457,298 457,300 457,302 457,303 457,305 457,306 457,309 458,269 458,271 458,273 458,274 458,276 458,278 458,279 458,281 458,285 458,287 458,288 458,292 458,294 458,296 458,298 458,299 458,301 458,302 458,303 460,269 460,271 460,272 460,274 460,276 460,278 460,280 460,282 460,284 460,286 460,289 460,290 460,292 460,294 460,295 460,297 460,302 460,303 460,304 460,306 460,308 460,310 460,312 460,313 462,272 462,274 462,275 462,277 462,279 462,280 462,282 462,284 462,285 462,287 462,289 462,291 462,293 462,295 462,298 462,299 462,300 462,301 462,302 462,303 462,305 462,307 462,308 462,309 462,311 462,312 464,272 464,273 464,275 464,276 464,277 464,278 464,280 464,281 464,283 464,284 464,286 464,288 464,289 464,290 464,292 464,294 464,296 464,298 464,299 464,301 464,302 464,303 464,307 464,308 464,310 464,312 465,265 465,269 465,271 465,273 465,275 465,276 465,278 465,280 465,282 465,284 465,286 465,288 465,290 465,292 465,293 465,294 465,296 465,300 465,301 465,302 465,303 465,304 465,307 465,309 465,310 465,311 467,264 467,265 467,267 467,269 467,271 467,273 467,274 467,275 467,276 467,277 467,278 467,279 467,280 467,281 467,282 467,283 467,285 467,286 467,287 467,289 467,290 467,291 467,294 467,295 467,297 467,299 467,300 467,303 467,305 467,306 469,258 469,259 469,261 469,263 469,264 469,265 469,266 469,267 469,270 469,271 469,272 469,275 469,276 469,278 469,280 469,281 469,282 469,284 469,286 469,287 469,291 469,293 469,295 469,297 469,298 469,299 469,301 469,302 469,303 469,305 469,307 469,308 469,310 469,312 471,260 471,261 471,262 471,264 471,266 471,268 471,269 471,270 471,272 471,274 471,276 471,277 471,279 471,280 471,281 471,282 471,284 471,285 471,287 471,288 471,289 471,291 471,293 471,295 471,296 471,298 471,299 471,301 471,302 471,304 471,305 471,307 471,308 473,266 473,267 473,269 473,271 473,272 473,273 473,275 473,276 473,277 473,279 473,280 473,281 473,282 473,283 473,285 473,286 473,287 473,289 473,290 473,291 473,292 473,293 473,294 473,296 473,298 473,300 473,301 473,304 473,306 473,307 473,308 473,310 473,311 473,312 475,262 475,263 475,264 475,266 475,268 475,270 475,272 475,273 475,274 475,276 475,277 475,278 475,280 475,282 475,284 475,286 475,288 475,290 475,291 475,294 475,295 475,299 475,301 475,302 475,304 475,306 475,307 477,262 477,264 477,267 477,271 477,272 477,274 477,280 477,281 477,282 477,284 477,285 477,286 477,288 477,289 477,291 477,292 477,294 477,296 477,297 477,298 477,301 477,302 477,304 477,306 477,308 478,263 478,265 478,266 478,267 478,269 478,270 478,271 478,274 478,276 478,277 478,279 478,281 478,282 478,284 478,285 478,287 478,288 478,290 478,291 478,293 478,295 478,296 478,299 478,300 478,302 478,303 478,305 478,307 478,309 478,310 478,311 466,312 466,314 466,318 466,320 466,322 466,324 466,326 466,328 473,310 473,312 473,318 473,322 473,324 473,326 473,328 473,330 473,332 473,338 473,342 473,346 476,268 476,269 476,270 476,271 476,272 476,275 476,279 476,281 476,283 476,285 476,287 476,289 476,291 476,293 476,294 476,295 476,296 476,297 476,299 476,303 476,304 476,306 476,310 476,313 476,314 478,279 478,281 478,283 478,284 478,288 478,290 478,292 478,294 478,297 478,299 478,300 478,302 478,304 478,306 478,307 478,309 478,310 478,311 478,313 480,279 480,280 480,281 480,282 480,284 480,285 480,287 480,289 480,290 480,292 480,294 480,296 480,297 480,299 480,301 480,302 480,303 480,305 480,307 480,308 480,310 480,311 480,312 480,314 480,316 482,282 482,283 482,284 482,286 482,290 482,292 482,294 482,296 482,297 482,299 482,301 482,302 482,306 482,307 482,309 482,310 482,312 482,314 484,283 484,284 484,286 484,287 484,289 484,291 484,293 484,295 484,296 484,297 484,298 484,300 484,301 484,303 484,305 484,306 484,308 484,309 484,310 484,311 484,313 484,315 484,316 483,316 483,318 483,322 483,326 486,312 486,316 486,318 486,322 486,328 486,330 490,320 490,326 487,324 487,330 487,334 487,340 487,344 487,346 487,358 489,312 489,324 489,326 489,328 489,330 489,332 489,346 489,348 489,350 489,352 489,354 485,257 485,258 485,262 485,263 485,264 485,266 485,267 485,269 485,270 485,271 485,273 485,274 485,275 485,277 485,278 485,279 485,281 485,283 485,284 485,285 485,286 485,288 485,289 485,291 485,293 485,294 485,296 485,298 485,300 485,301 485,303 487,253 487,255 487,256 487,257 487,259 487,260 487,261 487,263 487,264 487,265 487,266 487,268 487,270 487,272 487,274 487,276 487,278 487,281 487,284 487,286 487,288 487,289 487,290 487,291 487,292 487,293 487,296 487,298 487,299 487,300 487,302 487,304 488,254 488,255 488,257 488,259 488,261 488,263 488,264 488,265 488,266 488,268 488,269 488,270 488,272 488,274 488,276 488,278 488,280 488,284 488,286 488,287 488,288 488,289 488,291 488,292 488,294 488,295 488,296 488,298 488,299 488,301 489,258 489,259 489,260 489,261 489,262 489,263 489,265 489,267 489,268 489,270 489,272 489,273 489,275 489,278 489,280 489,281 489,282 489,283 489,285 489,287 489,288 489,289 489,290 489,292 489,293 489,294 489,295 491,265 491,267 491,269 491,270 491,272 491,274 491,277 491,278 491,279 491,280 491,281 491,282 491,284 491,285 491,287 491,289 491,290 491,292 491,293 491,294 491,297 491,299 491,301 491,303 491,305 491,307 493,259 493,260 493,263 493,264 493,265 493,267 493,268 493,270 493,272 493,273 493,275 493,276 493,278 493,279 493,280 493,283 493,284 493,286 493,288 493,290 493,292 493,294 493,295 493,297 493,299 493,300 493,302 495,260 495,261 495,262 495,264 495,266 495,268 495,271 495,273 495,274 495,275 495,279 495,281 495,285 495,287 495,290 495,292 495,294 495,295 495,299 495,301 495,303 495,304 495,306 495,307 495,309 495,311 496,261 496,263 496,266 496,268 496,270 496,272 496,273 496,274 496,275 496,277 496,278 496,280 496,281 496,283 496,285 496,286 496,287 496,289 496,291 496,293 496,295 496,297 496,299 496,301 496,302 496,303 496,305 496,306 496,307 496,309 496,310 496,311 497,261 497,262 497,263 497,265 497,267 497,269 497,271 497,273 497,275 497,277 497,278 497,280 497,282 497,283 497,284 497,285 497,287 497,288 497,289 497,290 497,292 497,293 497,295 497,296 497,298 497,300 497,301 497,303 497,305 497,306 497,307 499,269 499,271 499,274 499,276 499,278 499,279 499,280 499,281 499,283 499,284 499,286 499,288 499,289 499,291 499,294 499,297 499,298 499,299 499,300 499,301 499,302 499,303 499,304 499,305 499,307 499,309 499,310 499,312 501,262 501,264 501,266 501,267 501,270 501,271 501,273 501,274 501,275 501,276 501,277 501,278 501,279 501,282 501,283 501,284 501,286 501,288 501,290 501,293 501,295 501,296 501,298 501,300 501,301 501,302 501,303 501,305 501,306 501,307 501,308 501,310 502,261 502,264 502,268 502,270 502,271 502,273 502,274 502,276 502,278 502,279 502,280 502,282 502,283 502,284 502,286 502,288 502,290 502,293 502,295 502,296 502,298 502,302 502,303 502,305 502,306 502,308 502,310 502,311 502,312 502,314 503,259 503,261 503,263 503,264 503,265 503,267 503,268 503,270 503,271 503,275 503,277 503,278 503,279 503,281 503,284 503,285 503,286 503,287 503,289 503,290 503,292 503,294 503,296 503,297 503,299 503,300 503,302 503,304 503,306 503,308 503,310 504,262 504,263 504,264 504,266 504,268 504,270 504,271 504,272 504,273 504,275 504,276 504,277 504,278 504,280 504,281 504,282 504,283 504,285 504,286 504,288 504,289 504,290 504,291 504,292 504,293 504,294 504,295 504,297 504,298 504,300 504,302 504,304 504,306 504,308 504,309 504,310 505,260 505,262 505,263 505,264 505,265 505,266 505,267 505,268 505,269 505,270 505,271 505,273 505,274 505,276 505,278 505,279 505,281 505,282 505,283 505,285 505,286 505,287 505,289 505,291 505,293 505,295 505,296 505,298 505,300 505,301 505,303 505,306 505,307 505,309 505,311 506,267 506,269 506,271 506,273 506,275 506,277 506,279 506,280 506,282 506,283 506,285 506,286 506,287 506,289 506,290 506,291 506,293 506,295 506,296 506,297 506,298 506,300 506,302 506,303 506,304 506,305 506,307 506,308 506,309 506,310 506,312 506,314 499,312 499,324 499,326 499,330 499,344 499,346 499,348 506,311 506,313 506,317 506,337 506,341 506,343 508,272 508,273 508,275 508,276 508,278 508,280 508,281 508,283 508,285 508,287 508,289 508,291 508,292 508,293 508,295 508,296 508,298 508,299 508,300 508,302 508,304 508,306 508,308 508,309 508,311 508,312 508,314 508,316 510,272 510,273 510,274 510,276 510,277 510,278 510,280 510,282 510,286 510,288 510,289 510,291 510,294 510,296 510,298 510,300 510,302 510,304 510,305 510,307 510,309 510,311 510,312 510,313 510,315 510,317 510,319 512,272 512,274 512,276 512,277 512,279 512,280 512,282 512,284 512,285 512,287 512,289 512,290 512,291 512,292 512,294 512,296 512,298 512,300 512,301 512,303 512,305 512,307 512,309 512,311 512,312 512,314 512,315 512,316 512,317 512,318 512,320 512,321 512,323 513,273 513,276 513,278 513,280 513,282 513,284 513,286 513,287 513,288 513,289 513,290 513,291 513,292 513,293 513,295 513,297 513,299 513,301 513,303 513,304 513,305 513,306 513,307 513,308 513,310 513,312 513,313 513,314 513,317 513,318 513,320 513,322 514,273 514,275 514,276 514,277 514,280 514,281 514,282 514,284 514,286 514,287 514,289 514,290 514,291 514,292 514,293 514,295 514,296 514,299 514,300 514,301 514,303 514,304 514,306 514,308 514,309 514,311 514,313 514,315 514,316 514,317 514,320 514,322 513,321 513,323 513,325 513,327 513,329 513,331 513,333 513,335 513,337 513,339 513,341 513,343 513,345 513,347 513,349 513,351 513,353 513,357 513,359 513,361 513,365 515,318 515,320 515,322 515,326 515,328 515,330 515,332 515,334 515,338 515,342 515,346 515,348 515,352 515,354 515,356 515,358 515,360 515,362 517,316 517,318 517,320 517,324 517,326 517,328 517,330 517,332 517,334 517,336 517,338 517,340 517,342 517,344 517,346 517,350 517,352 517,354 517,356 517,358 517,360 517,362 517,364 515,274 515,278 515,280 515,282 515,284 515,285 515,287 515,288 515,290 515,292 515,294 515,296 515,297 515,298 515,301 515,303 515,305 515,307 515,308 515,309 515,311 515,313 515,314 515,315 515,317 515,318 515,319 515,320 515,322 517,278 517,279 517,281 517,283 517,285 517,287 517,288 517,290 517,292 517,294 517,296 517,298 517,299 517,300 517,302 517,304 517,305 517,306 517,308 517,309 517,310 517,311 517,312 517,314 517,316 517,317 517,318 517,320 517,323 518,277 518,278 518,280 518,281 518,282 518,284 518,286 518,287 518,289 518,291 518,292 518,294 518,296 518,297 518,299 518,301 518,302 518,304 518,306 518,307 518,308 518,310 518,312 518,314 518,316 518,319 518,320 519,277 519,278 519,279 519,281 519,282 519,284 519,286 519,288 519,289 519,290 519,292 519,294 519,296 519,297 519,299 519,301 519,302 519,306 519,307 519,308 519,311 519,312 519,313 519,315 519,317 519,318 519,319 521,278 521,282 521,284 521,285 521,286 521,287 521,288 521,290 521,292 521,294 521,296 521,298 521,299 521,301 521,302 521,304 521,305 521,306 521,308 521,310 521,311 521,315 521,316 521,317 521,319 521,321 521,323 521,325 523,276 523,277 523,278 523,281 523,282 523,284 523,285 523,286 523,288 523,291 523,292 523,294 523,296 523,297 523,298 523,299 523,300 523,302 523,304 523,305 523,306 523,307 523,308 523,309 523,311 523,313 523,315 523,317 523,320 523,321 524,276 524,278 524,279 524,281 524,282 524,283 524,285 524,287 524,288 524,290 524,291 524,292 524,293 524,295 524,296 524,298 524,299 524,300 524,301 524,303 524,305 524,306 524,307 524,308 524,310 524,312 524,313 524,314 524,316 524,318 524,321 524,323 522,326 522,328 522,332 522,338 522,340 522,342 522,346 522,348 525,275 525,278 525,280 525,282 525,284 525,287 525,288 525,289 525,290 525,291 525,293 525,296 525,300 525,301 525,303 525,304 525,305 525,307 525,308 525,310 525,311 525,312 525,313 525,315 525,316 525,318 525,320 525,322 525,323 527,278 527,279 527,280 527,281 527,283 527,284 527,286 527,287 527,289 527,290 527,291 527,293 527,294 527,296 527,297 527,298 527,299 527,300 527,302 527,303 527,305 527,306 527,307 527,308 527,311 527,312 527,313 527,314 527,315 527,317 527,318 527,319 527,321 529,292 529,293 529,294 529,295 529,296 529,297 529,299 529,301 529,304 529,305 529,307 529,312 529,313 529,314 529,318 529,319 529,320 529,322 531,279 531,281 531,282 531,284 531,288 531,290 531,291 531,293 531,294 531,296 531,298 531,299 531,300 531,302 531,304 531,305 531,306 531,307 531,311 531,313 531,316 531,317 531,318 531,319 531,320 533,277 533,278 533,279 533,282 533,284 533,285 533,287 533,288 533,290 533,291 533,292 533,294 533,295 533,297 533,301 533,302 533,303 533,304 533,306 533,307 533,308 533,310 533,311 533,313 533,315 533,317 533,319 533,322 533,324 533,325 528,325 528,327 528,331 528,333 528,335 536,277 536,279 536,280 536,283 536,284 536,286 536,287 536,291 536,293 536,297 536,300 536,302 536,303 536,305 536,307 536,309 536,310 536,311 536,312 536,313 536,315 536,317 536,319 537,283 537,285 537,287 537,289 537,291 537,293 537,294 537,295 537,296 537,299 537,301 537,302 537,303 537,305 537,308 537,310 537,312 537,314 537,316 537,319 537,321 537,322 537,324 537,326 537,328 537,329 538,278 538,280 538,282 538,284 538,285 538,287 538,289 538,291 538,292 538,294 538,295 538,297 538,299 538,300 538,301 538,304 538,306 538,307 538,308 538,310 538,311 538,313 538,314 538,316 538,318 538,320 538,324 538,325 538,326 538,327 540,279 540,280 540,282 540,284 540,286 540,287 540,289 540,291 540,292 540,293 540,295 540,297 540,298 540,299 540,301 540,303 540,304 540,306 540,307 540,311 540,313 540,315 540,317 540,318 540,319 540,321 540,322 540,324 540,325 541,283 541,285 541,286 541,288 541,291 541,292 541,293 541,294 541,296 541,297 541,298 541,299 541,300 541,302 541,304 541,305 541,307 541,309 541,311 541,313 541,315 541,316 541,318 541,319 541,321 541,323 541,325 541,327 543,290 543,292 543,293 543,294 543,298 543,300 543,301 543,304 543,306 543,307 543,309 543,311 543,313 543,315 543,317 543,319 543,321 543,323 543,325 543,327 545,282 545,283 545,285 545,287 545,288 545,290 545,292 545,294 545,296 545,299 545,300 545,302 545,303 545,304 545,305 545,307 545,308 545,309 545,310 545,311 545,312 545,313 545,315 545,317 546,277 546,278 546,279 546,280 546,282 546,283 546,284 546,285 546,287 546,288 546,290 546,291 546,293 546,294 546,295 546,297 546,299 546,301 546,305 546,307 546,308 546,309 546,310 546,312 546,313 546,314 546,316 546,319 546,323 535,328 535,330 535,334 535,338 535,340 535,342 535,346 538,337 538,341 538,345 538,347 542,331 542,337 542,339 542,347 542,349 542,351 543,333 543,335 543,339 543,343 543,345 543,347 543,353 543,355 543,363 547,327 547,329 547,333 547,343 547,353 547,355 547,363 547,365 547,369 547,283 547,285 547,286 547,287 547,288 547,292 547,293 547,294 547,296 547,298 547,301 547,303 547,305 547,307 547,309 547,311 547,315 547,317 547,318 547,320 547,321 547,322 547,323 547,324 547,325 547,327 549,285 549,287 549,291 549,292 549,293 549,295 549,299 549,300 549,304 549,305 549,306 549,309 549,311 549,313 549,315 549,317 549,319 549,322 549,324 549,326 550,282 550,284 550,285 550,286 550,288 550,290 550,292 550,294 550,295 550,296 550,297 550,298 550,300 550,301 550,303 550,304 550,305 550,306 550,307 550,308 550,309 550,311 550,313 550,314 550,315 550,317 550,318 550,319 550,323 550,324 549,323 549,327 549,329 549,331 549,335 549,337 549,343 549,347 551,281 551,283 551,285 551,287 551,289 551,291 551,293 551,295 551,297 551,299 551,301 551,304 551,305 551,307 551,308 551,310 551,311 551,312 551,313 551,314 551,316 551,317 551,318 551,319 551,321 551,322 551,324 551,325 551,326 551,327 551,328 553,279 553,281 553,283 553,285 553,287 553,289 553,291 553,292 553,294 553,296 553,298 553,300 553,302 553,303 553,305 553,307 553,309 553,310 553,311 553,313 553,314 553,315 553,316 553,317 553,318 553,319 553,320 556,272 556,273 556,275 556,276 556,278 556,279 556,280 556,282 556,284 556,286 556,288 556,290 556,291 556,293 556,295 556,296 556,298 556,301 556,302 556,304 556,305 556,306 556,308 556,309 556,310 556,311 556,312 556,313 556,315 556,319 558,268 558,270 558,272 558,273 558,275 558,276 558,278 558,280 558,281 558,282 558,286 558,288 558,290 558,292 558,293 558,295 558,296 558,297 558,300 558,302 558,305 558,307 558,308 558,309 558,310 558,311 558,312 558,314 558,315 558,317 558,318 560,270 560,271 560,272 560,274 560,276 560,278 560,281 560,283 560,284 560,285 560,290 560,292 560,295 560,297 560,299 560,300 560,302 560,304 560,306 560,308 560,309 560,311 560,315 562,270 562,271 562,273 562,275 562,278 562,280 562,282 562,285 562,287 562,288 562,290 562,292 562,293 562,294 562,296 562,297 562,299 562,300 562,301 562,302 562,305 562,306 562,308 562,309 562,310 562,312 562,314 562,315 562,316 562,317 562,318 562,319 564,274 564,276 564,278 564,279 564,281 564,282 564,283 564,284 564,286 564,287 564,288 564,290 564,291 564,295 564,296 564,298 564,299 564,300 564,302 564,303 564,304 564,305 564,307 564,308 564,310 556,317 556,319 556,321 556,329 556,339 556,343 556,345 558,323 558,327 558,335 558,337 558,341 558,343 558,345 558,351 559,319 559,323 559,337 559,345 559,347 559,349 563,316 563,320 563,322 563,324 563,334 563,342 563,344 563,350 566,267 566,268 566,270 566,272 566,274 566,276 566,280 566,282 566,284 566,286 566,289 566,290 566,292 566,294 566,295 567,266 567,268 567,270 567,272 567,273 567,274 567,275 567,277 567,279 567,281 567,282 567,283 567,284 567,286 567,288 567,289 567,291 567,293 567,295 567,297 568,263 568,266 568,268 568,269 568,271 568,273 568,274 568,276 568,277 568,278 568,280 568,282 568,284 568,286 568,288 568,289 568,291 568,293 570,266 570,268 570,269 570,270 570,271 570,273 570,274 570,275 570,277 570,278 570,279 570,280 570,281 570,282 570,283 570,285 570,286 570,288 570,289 570,290 570,294 570,296 570,298 570,299 570,300 570,301 570,303 566,302 566,312 570,302 570,310 570,314 570,318 572,264 572,266 572,268 572,269 572,270 572,271 572,273 572,275 572,277 572,278 572,280 572,281 572,283 572,285 572,286 572,288 572,289 572,290 572,292 572,294 572,296 572,297 572,299 572,301 573,265 573,267 573,269 573,271 573,273 573,274 573,276 573,278 573,280 573,282 573,284 573,286 573,287 573,289 573,291 573,293 573,295 574,264 574,266 574,267 574,269 574,271 574,272 574,273 574,275 574,276 574,278 574,282 574,283 574,284 574,285 574,288 574,290 574,294 574,295 574,297 574,301 574,302 576,264 576,266 576,268 576,269 576,270 576,271 576,272 576,275 576,277 576,278 576,281 576,282 576,284 576,286 576,288 576,290 578,269 578,272 578,273 578,275 578,276 578,278 578,280 578,282 578,286 578,288 578,290 578,292 578,294 578,296 578,297 578,299 578,301 578,303 580,270 580,273 580,274 580,277 580,279 580,280 580,282 580,283 580,284 580,285 580,288 580,289 580,290 580,292 580,294 580,295 580,300 576,299 576,301 576,303 576,305 576,307 576,309 576,311 576,313 576,317 576,319 576,321 576,323 576,327 576,329 576,331 576,335 576,337 576,339 576,341 576,343 581,273 581,276 581,279 581,281 581,283 581,285 581,287 581,289 581,290 581,291 581,292 581,293 581,295 581,297 581,299 581,300 581,302 581,303 581,305 581,306 581,307 581,308 581,309 581,310 581,311 581,312 581,314 581,315 582,274 582,276 582,277 582,279 582,281 582,282 582,283 582,284 582,287 582,289 582,290 582,291 582,293 582,294 582,299 582,300 582,301 582,303 582,305 582,307 582,308 582,310 582,311 582,313 582,314 582,315 584,273 584,275 584,277 584,279 584,281 584,283 584,284 584,286 584,289 584,291 584,292 584,294 584,295 584,296 584,297 584,298 584,300 584,301 584,302 584,304 584,306 584,307 584,308 584,310 584,313 585,276 585,278 585,279 585,280 585,281 585,282 585,283 585,285 585,286 585,287 585,288 585,292 585,294 585,296 585,297 585,298 585,299 585,301 585,302 585,303 585,304 585,306 585,308 585,309 585,310 585,313 585,315 587,274 587,277 587,278 587,280 587,281 587,283 587,284 587,286 587,288 587,289 587,291 587,297 587,298 587,301 587,304 587,307 587,309 587,310 587,312 588,274 588,277 588,278 588,280 588,284 588,285 588,287 588,288 588,290 588,291 588,292 588,293 588,297 588,299 588,301 588,303 588,305 588,307 588,308 588,310 588,311 588,313 588,314 588,315 583,315 583,317 583,319 583,323 583,325 583,329 583,333 583,335 583,341 583,343 583,349 583,355 583,357 583,359 583,361 583,367 583,369 583,373 590,325 590,327 590,328 590,330 590,331 590,333 590,334 590,335 590,337 590,338 590,340 590,341 590,343 590,344 590,346 590,348 590,349 590,351 590,353 590,354 590,355 590,356 590,357 590,358 590,359 590,360 590,362 590,364 590,366 590,367 590,371 590,373 590,374 590,375 590,376 590,377 590,379 590,382 590,383 590,385 590,387 590,388 591,327 591,330 591,333 591,335 591,337 591,339 591,340 591,342 591,343 591,344 591,347 591,348 591,349 591,350 591,352 591,356 591,358 591,359 591,361 591,363 591,365 591,367 591,368 591,369 591,370 591,372 591,375 591,377 591,379 591,380 591,382 591,383 591,384 591,386 591,388 591,390 591,391 592,323 592,325 592,327 592,328 592,330 592,331 592,333 592,335 592,336 592,338 592,340 592,343 592,345 592,346 592,347 592,349 592,351 592,352 592,353 592,354 592,356 592,358 592,362 592,363 592,364 592,365 592,367 592,368 592,370 592,372 592,373 592,377 592,379 592,380 592,381 592,383 592,385 592,386 592,388 593,342 593,343 593,345 593,347 593,348 593,350 593,351 593,353 593,355 593,357 593,359 593,360 593,361 593,362 593,363 593,365 593,367 593,369 593,371 593,373 593,374 593,376 595,311 595,312 595,314 595,315 595,317 595,319 595,320 595,322 595,323 595,324 595,326 595,331 595,333 595,334 595,335 595,336 595,337 595,339 595,341 595,343 595,345 595,347 595,349 595,351 595,354 595,356 595,357 595,359 595,360 595,362 595,364 595,369 595,371 595,373 595,376 595,378 595,380 595,381 595,382 595,385 595,386 595,388 595,389 595,391 595,392 597,313 597,314 597,315 597,317 597,318 597,319 597,320 597,321 597,322 597,323 597,324 597,325 597,326 597,327 597,328 597,330 597,331 597,334 597,336 597,338 597,340 597,342 597,344 597,346 597,347 597,349 597,350 597,351 597,352 597,354 597,355 597,356 597,357 597,358 597,359 597,360 597,361 597,363 597,365 597,366 597,367 597,369 597,371 598,309 598,311 598,313 598,315 598,316 598,317 598,318 598,320 598,321 598,322 598,326 598,327 598,328 598,330 598,331 598,334 598,336 598,337 598,338 598,339 598,340 598,342 598,344 598,345 598,347 598,349 598,350 598,352 598,354 598,355 598,357 598,361 598,362 598,363 598,365 598,366 598,368 598,369 598,373 598,375 598,376 598,378 598,379 598,381 600,311 600,312 600,313 600,317 600,319 600,320 600,321 600,322 600,323 600,325 600,329 600,330 600,331 600,333 600,334 600,335 600,337 600,338 600,340 600,342 600,343 600,345 600,347 600,348 600,350 600,352 600,354 600,357 600,361 600,363 600,364 600,366 600,368 600,370 600,371 600,372 600,373 600,375 600,377 600,379 600,381 600,382 600,384 600,385 600,386 600,388 600,390 600,391 600,393 601,309 601,311 601,312 601,313 601,314 601,316 601,317 601,320 601,321 601,322 601,323 601,324 601,326 601,328 601,330 601,332 601,333 601,334 601,335 601,336 601,337 601,338 601,340 601,341 601,343 601,345 601,348 601,350 601,351 601,353 601,355 601,356 601,358 601,360 601,361 601,362 601,364 601,366 601,367 601,368 601,369 601,371 601,373 601,376 601,378 601,380 601,382 602,304 602,308 602,309 602,310 602,311 602,313 602,315 602,316 602,317 602,318 602,319 602,321 602,324 602,326 602,328 602,329 602,330 602,332 602,333 602,334 602,335 602,336 602,338 602,339 602,341 602,342 602,343 602,345 602,346 602,348 602,350 602,353 602,354 602,356 602,357 602,358 602,359 602,360 602,361 602,363 602,364 602,367 602,368 602,369 602,371 602,372 602,373 602,374 602,375 602,376 602,378 603,307 603,308 603,310 603,314 603,316 603,320 603,322 603,324 603,326 603,328 603,330 603,331 603,332 603,333 603,335 603,337 603,339 603,340 603,344 603,345 603,346 603,347 603,348 603,349 603,351 603,353 603,354 603,355 603,356 603,358 603,362 603,363 603,364 603,366 603,367 603,369 603,371 603,372 603,374 603,375 603,376 603,377 603,379 603,380 603,381 603,383 603,384 604,306 604,307 604,308 604,310 604,311 604,313 604,315 604,316 604,318 604,319 604,321 604,323 604,324 604,325 604,327 604,328 604,330 604,332 604,334 604,336 604,338 604,339 604,341 604,343 604,345 604,346 604,348 604,350 604,351 604,355 604,357 604,359 604,360 604,363 604,366 604,368 604,370 604,372 604,374 604,376 604,377 604,378 604,379 604,381 604,383 604,384 605,304 605,306 605,308 605,310 605,311 605,312 605,313 605,315 605,317 605,319 605,320 605,322 605,323 605,324 605,326 605,327 605,329 605,330 605,331 605,333 605,335 605,337 605,341 605,342 605,343 605,344 605,345 605,347 605,348 605,350 605,352 605,353 605,355 605,356 605,358 605,360 605,362 605,364 605,366 605,367 605,369 605,370 605,371 606,308 606,310 606,311 606,313 606,315 606,317 606,319 606,320 606,321 606,323 606,325 606,327 606,330 606,331 606,332 606,333 606,335 606,337 606,339 606,341 606,342 606,343 606,345 606,346 606,347 606,350 606,351 606,352 606,354 606,356 606,357 606,358 606,359 606,360 606,362 606,364 606,365 606,366 606,367 606,368 606,369 606,371 606,372 606,373 606,374 606,375 606,377 606,379 606,381 606,383 608,320 608,322 608,324 608,325 608,327 608,328 608,330 608,332 608,333 608,334 608,335 608,336 608,338 608,339 608,340 608,342 608,344 608,346 608,347 608,348 608,350 608,353 608,355 608,357 608,359 608,361 608,362 608,363 608,364 608,365 608,368 608,370 608,372 608,374 608,375 608,376 608,378 608,379 608,381 608,383 608,384 609,315 609,317 609,320 609,321 609,322 609,323 609,325 609,329 609,331 609,332 609,334 609,336 609,337 609,339 609,340 609,342 609,344 609,345 609,347 609,349 609,351 609,352 609,353 609,355 609,357 609,359 609,360 609,362 609,363 609,365 609,367 609,368 609,370 609,371 609,373 609,374 609,376 609,378 609,379 609,380 609,381 609,382 609,384 609,386 610,316 610,318 610,320 610,321 610,322 610,323 610,325 610,326 610,328 610,330 610,333 610,334 610,336 610,338 610,339 610,340 610,341 610,343 610,345 610,347 610,348 610,351 610,352 610,353 610,354 610,355 610,356 610,359 610,361 610,363 610,364 610,366 610,367 610,368 610,370 610,374 610,376 610,379 610,380 610,384 610,385 610,387 612,315 612,317 612,319 612,320 612,321 612,322 612,323 612,324 612,326 612,328 612,329 612,331 612,333 612,335 612,336 612,337 612,339 612,341 612,342 612,343 612,344 612,346 612,348 612,351 612,353 612,354 612,355 612,356 612,358 612,359 612,360 612,362 612,363 612,364 612,365 612,367 612,368 612,369 612,373 612,374 612,375 612,376 612,377 612,379 612,381 612,382 612,384 612,385 612,387 612,388 613,314 613,316 613,317 613,319 613,321 613,322 613,326 613,327 613,329 613,331 613,332 613,333 613,335 613,338 613,339 613,340 613,342 613,344 613,345 613,347 613,351 613,353 613,355 613,356 613,358 613,360 613,362 613,363 613,364 613,366 613,368 613,369 613,371 613,372 613,373 613,375 613,376 613,379 613,380 613,381 614,315 614,316 614,317 614,319 614,321 614,324 614,325 614,327 614,329 614,330 614,332 614,334 614,336 614,337 614,339 614,340 614,342 614,343 614,345 614,346 614,348 614,349 614,351 614,352 614,353 614,354 614,355 614,356 614,358 614,359 614,361 614,362 614,365 614,367 614,369 614,371 614,372 614,374 614,375 614,376 614,377 614,378 614,379 615,312 615,314 615,315 615,316 615,317 615,318 615,320 615,323 615,324 615,325 615,327 615,331 615,333 615,334 615,335 615,336 615,337 615,339 615,341 615,343 615,345 615,347 615,348 615,349 615,351 615,353 615,354 615,357 615,358 615,359 615,361 615,363 615,364 615,366 615,368 615,369 615,370 615,372 615,373 615,375 615,377 615,378 615,379 615,381 615,383 618,311 618,312 618,313 618,315 618,317 618,318 618,319 618,323 618,325 618,326 618,330 618,332 618,333 618,335 618,336 618,338 618,340 618,341 618,343 618,344 618,348 618,350 618,352 618,353 618,355 618,356 618,357 618,359 618,361 618,363 618,365 619,309 619,310 619,311 619,314 619,315 619,317 619,319 619,320 619,324 619,326 619,327 619,328 619,330 619,332 619,334 619,336 619,339 619,341 619,342 619,344 619,346 619,347 619,348 619,350 619,352 619,353 619,356 619,358 619,360 619,361 619,363 619,364 621,313 621,315 621,316 621,317 621,318 621,319 621,321 621,323 621,325 621,327 621,329 621,331 621,332 621,334 621,335 621,337 621,338 621,340 621,342 621,343 621,345 621,347 621,349 621,353 621,355 621,356 621,358 621,360 621,361 621,362 622,312 622,314 622,315 622,317 622,319 622,323 622,325 622,327 622,328 622,330 622,331 622,332 622,333 622,335 622,339 622,340 622,341 622,342 622,344 622,346 622,347 622,349 622,350 622,352 622,354 622,355 622,356 622,360 622,363 622,365 624,295 624,297 624,298 624,302 624,304 624,305 624,306 624,307 624,308 624,310 624,311 624,313 624,315 624,316 624,317 624,319 624,321 624,323 624,325 624,327 624,329 624,331 624,332 624,333 624,335 624,337 624,338 624,340 624,342 624,344 624,345 624,346 624,348 624,349 626,296 626,297 626,298 626,300 626,302 626,304 626,305 626,309 626,310 626,312 626,313 626,314 626,315 626,316 626,318 626,320 626,321 626,322 626,323 626,324 626,325 626,327 626,328 626,330 626,332 626,333 626,334 626,336 626,338 626,339 626,341 626,343 626,347 626,348 624,337 624,339 624,343 624,351 624,353 624,355 624,357 624,361 627,339 627,345 627,347 627,349 627,353 627,355 628,340 628,342 628,344 628,348 628,354 628,356 628,358 628,360 628,362 630,335 630,337 630,341 630,343 630,345 630,347 630,349 630,351 630,353 634,335 634,341 634,343 634,347 634,355 634,357 637,345 637,357 639,335 639,337 639,339 639,347 639,349 639,351 639,353 640,338 640,340 640,342 640,350 640,356 628,294 628,295 628,297 628,300 628,303 628,305 628,307 628,308 628,309 628,311 628,314 628,316 628,317 628,319 628,320 628,322 628,323 628,324 628,325 628,329 628,331 628,332 628,334 628,335 628,336 628,338 628,339 629,292 629,294 629,297 629,298 629,299 629,301 629,303 629,307 629,308 629,309 629,310 629,313 629,314 629,316 629,318 629,319 629,321 629,323 629,326 629,328 629,330 629,332 630,299 630,300 630,301 630,306 630,308 630,310 630,313 630,315 630,319 630,320 630,322 630,324 630,326 630,328 630,330 631,294 631,295 631,296 631,298 631,300 631,302 631,304 631,306 631,309 631,311 631,312 631,314 631,316 631,318 631,321 631,322 631,323 631,324 631,325 631,327 631,328 631,329 631,331 634,292 634,293 634,295 634,297 634,298 634,299 634,301 634,303 634,305 634,306 634,308 634,309 634,310 634,311 634,313 634,314 634,315 634,316 634,317 634,318 634,319 634,320 634,323 634,324 634,325 634,327 634,328 634,330 634,331 634,332 634,333 634,335 634,336 634,337 636,295 636,296 636,297 636,298 636,299 636,300 636,302 636,304 636,305 636,307 636,308 636,311 636,312 636,313 636,314 636,316 636,318 636,320 636,322 636,324 636,325 636,326 636,327 636,328 636,330 636,334 636,336 636,338 638,303 638,307 638,309 638,311 638,314 638,316 638,318 638,320 638,322 638,324 638,325 638,327 638,328 638,329 638,331 639,294 639,295 639,296 639,297 639,300 639,301 639,302 639,303 639,304 639,305 639,306 639,307 639,309 639,310 639,311 639,312 639,313 639,314 639,316 639,318 639,320 639,321 639,322 639,323 639,324 639,325 639,326 639,327 639,328 639,329 639,330 639,331 639,332 640,299 640,302 640,305 640,306 640,308 640,309 640,310 640,311 640,313 640,314 640,315 640,317 640,319 640,321 640,322 640,324 640,326 640,327 640,328 640,331 640,333 640,335 639,333 639,335 639,341 639,345 641,341 641,343 641,345 642,298 642,303 642,304 642,305 642,307 642,309 642,311 642,312 642,314 642,315 642,316 642,318 642,319 642,321 642,323 642,325 642,326 642,328 642,329 642,331 642,333 642,336 642,338 642,339 642,340 642,342 642,343 642,345 642,346 642,348 642,349 642,351 644,298 644,299 644,300 644,302 644,304 644,305 644,306 644,308 644,310 644,311 644,312 644,313 644,314 644,316 644,318 644,320 644,322 644,325 644,326 644,328 644,330 644,332 644,335 644,337 644,338 644,340 644,341 644,347 645,303 645,305 645,306 645,308 645,310 645,312 645,313 645,314 645,315 645,316 645,317 645,318 645,320 645,322 645,323 645,325 645,327 645,330 645,332 645,333 645,335 645,337 645,339 645,340 645,341 645,342 645,343 645,346 645,348 645,350 645,351 645,352 646,299 646,301 646,303 646,305 646,307 646,308 646,309 646,310 646,311 646,312 646,313 646,314 646,315 646,316 646,317 646,318 646,320 646,322 646,323 646,324 646,326 646,329 646,330 646,331 646,333 646,334 646,337 646,339 646,343 646,345 646,348 646,350 646,352 647,300 647,301 647,303 647,304 647,305 647,306 647,307 647,308 647,309 647,311 647,312 647,313 647,315 647,316 647,317 647,319 647,320 647,321 647,323 647,324 647,326 647,330 647,331 647,333 647,336 647,337 647,339 647,342 647,345 647,346 647,347 647,348 647,349 647,350 648,301 648,302 648,304 648,305 648,306 648,307 648,309 648,310 648,312 648,316 648,318 648,320 648,322 648,324 648,326 648,327 648,328 648,330 648,334 648,335 648,337 648,338 648,339 648,341 648,342 648,343 648,344 648,345 648,348 648,350 643,280 643,284 643,292 643,294 643,298 643,300 649,306 649,307 649,308 649,310 649,312 649,314 649,315 649,319 649,323 649,324 649,325 649,326 649,328 649,329 649,330 649,331 649,332 649,334 649,336 649,341 649,343 649,345 649,347 649,349 649,350 649,352 649,353 649,354 649,355 649,357 649,359 650,306 650,308 650,310 650,311 650,313 650,314 650,315 650,316 650,318 650,320 650,321 650,323 650,325 650,327 650,328 650,329 650,330 650,331 650,332 650,334 650,335 650,337 650,339 650,341 650,343 650,347 650,352 650,354 650,355 650,356 650,359 651,303 651,304 651,306 651,307 651,308 651,309 651,311 651,312 651,314 651,316 651,317 651,318 651,319 651,320 651,321 651,322 651,324 651,325 651,327 651,329 651,331 651,332 651,334 651,335 651,337 651,338 651,340 651,341 651,343 651,344 651,345 651,346 651,348 651,349 651,350 651,352 651,353 651,354 651,355 651,357 651,360 653,305 653,307 653,308 653,309 653,310 653,312 653,314 653,316 653,318 653,319 653,320 653,321 653,322 653,325 653,328 653,330 653,331 653,332 653,333 653,334 653,335 653,337 653,339 653,341 653,344 653,345 653,346 653,348 653,350 653,351 653,353 653,355 653,356 654,317 654,320 654,322 654,324 654,325 654,327 654,330 654,331 654,333 654,336 654,340 654,341 654,343 654,344 654,346 654,347 654,348 654,350 654,353 654,354 654,356 654,358 655,306 655,307 655,308 655,310 655,311 655,312 655,314 655,316 655,318 655,319 655,321 655,322 655,324 655,326 655,327 655,329 655,330 655,331 655,335 655,336 655,338 655,340 655,342 655,344 655,345 655,348 655,350 655,352 655,355 655,357 657,306 657,307 657,309 657,310 657,311 657,312 657,313 657,314 657,315 657,316 657,317 657,318 657,320 657,321 657,322 657,324 657,325 657,327 657,329 657,331 657,332 657,333 657,335 657,336 657,338 657,340 657,341 657,343 657,344 657,345 657,349 657,350 657,351 657,353 657,355 657,356 657,358 657,360 660,319 660,322 660,323 660,324 660,325 660,326 660,329 660,330 660,331 660,332 660,334 660,336 660,338 660,340 660,342 660,344 660,346 660,347 660,349 660,350 661,316 661,319 661,321 661,323 661,325 661,327 661,328 661,329 661,331 661,333 661,335 661,337 661,338 661,340 661,341 661,343 661,344 661,346 661,349 661,351 661,353 661,355 661,357 661,358 661,360 663,317 663,319 663,321 663,322 663,324 663,325 663,326 663,329 663,331 663,332 663,333 663,334 663,336 663,337 663,338 663,340 663,341 663,343 663,344 663,346 663,347 663,349 663,350 663,352 663,354 663,356 663,357 663,359 663,360 665,322 665,324 665,326 665,327 665,329 665,330 665,332 665,334 665,336 665,337 665,339 665,342 665,343 665,344 665,346 665,347 665,349 665,351 665,353 665,355 665,357 665,358 665,360 667,302 667,303 667,305 667,306 667,308 667,310 667,312 667,313 667,314 667,315 667,317 667,318 667,320 667,321 667,323 667,324 667,326 667,328 667,330 667,332 667,334 667,336 667,338 667,339 667,341 667,342 667,344 667,346 667,347 669,300 669,302 669,303 669,304 669,305 669,307 669,308 669,309 669,310 669,311 669,313 669,315 669,316 669,320 669,324 669,326 669,328 669,330 669,332 669,334 669,335 669,337 669,338 669,342 669,344 669,346 669,348 669,349 669,351 669,352 669,353 669,356 671,303 671,304 671,306 671,307 671,309 671,310 671,312 671,313 671,316 671,319 671,320 671,321 671,322 671,323 671,325 671,327 671,328 671,330 671,332 671,334 671,338 671,340 671,342 671,344 671,345 671,347 671,348 671,349 671,351 671,353 671,354 671,355 671,356 671,359 673,299 673,302 673,303 673,305 673,307 673,309 673,310 673,312 673,313 673,314 673,316 673,318 673,319 673,321 673,323 673,324 673,325 673,327 673,328 673,330 673,331 673,332 673,335 673,339 673,340 673,341 673,342 673,346 673,347 673,349 673,350 673,352 673,354 673,355 674,302 674,304 674,305 674,307 674,308 674,310 674,312 674,313 674,315 674,317 674,318 674,320 674,321 674,324 674,325 674,327 674,329 674,331 674,333 674,335 674,336 674,337 674,339 674,341 674,343 674,345 674,349 674,350 674,351 674,352 674,353 674,355 674,356 675,303 675,305 675,309 675,311 675,312 675,314 675,316 675,317 675,318 675,320 675,323 675,325 675,326 675,328 675,329 675,330 675,333 675,334 675,335 675,337 675,338 675,340 675,342 675,344 675,346 675,348 675,349 675,350 675,352 675,353 675,354 667,354 667,366 670,353 670,359 671,355 671,361 671,365 674,357 674,359 678,291 678,293 678,295 678,296 678,297 678,300 678,302 678,304 678,306 678,308 678,310 678,311 678,312 678,314 678,316 678,317 678,319 678,321 678,322 678,323 678,325 678,326 678,328 678,329 678,331 678,334 678,336 678,338 678,340 678,341 678,342 678,343 678,346 678,349 680,292 680,293 680,295 680,296 680,298 680,299 680,302 680,303 680,305 680,307 680,309 680,311 680,312 680,314 680,318 680,319 680,321 680,322 680,324 680,326 680,328 680,329 680,331 680,333 680,335 680,337 680,338 680,339 680,341 680,342 680,343 680,344 680,346 680,348 680,350 680,352 680,354 682,293 682,294 682,295 682,296 682,298 682,299 682,300 682,303 682,304 682,306 682,307 682,311 682,313 682,314 682,316 682,318 682,320 682,322 682,323 682,324 682,325 682,326 682,327 682,328 682,330 682,331 682,332 682,333 682,334 682,335 682,336 682,337 682,338 682,340 682,342 682,343 683,293 683,295 683,297 683,299 683,301 683,302 683,303 683,304 683,305 683,306 683,308 683,309 683,310 683,311 683,313 683,314 683,315 683,319 683,321 683,323 683,325 683,327 683,329 683,330 683,331 683,332 683,336 683,337 683,339 683,341 683,342 683,344 683,347 683,348 683,350 683,353 683,355 683,356 685,296 685,298 685,299 685,300 685,302 685,303 685,305 685,307 685,309 685,310 685,313 685,315 685,317 685,319 685,320 685,322 685,324 685,326 685,327 685,329 685,331 685,333 685,335 685,336 685,339 685,340 685,341 685,342 685,346 685,347 685,348 685,349 685,350 685,351 685,353 685,356 686,301 686,303 686,304 686,305 686,307 686,308 686,309 686,311 686,314 686,316 686,318 686,319 686,321 686,323 686,325 686,326 686,328 686,330 686,332 686,335 686,336 686,337 686,340 686,342 686,343 686,345 686,346 686,347 686,349 686,350 686,353 686,354 679,352 679,354 679,356 679,358 679,360 679,362 679,364 679,366 680,354 680,356 680,358 680,360 680,362 680,364 680,370 688,294 688,295 688,296 688,298 688,299 688,300 688,302 688,303 688,305 688,306 688,308 688,310 688,311 688,313 688,315 688,317 688,323 688,324 688,325 688,327 688,329 688,331 688,333 688,335 688,337 688,339 688,341 688,343 688,344 688,346 688,347 688,348 688,350 688,351 688,353 689,311 689,312 689,314 689,315 689,316 689,318 689,320 689,321 689,323 689,325 689,327 689,328 689,330 689,331 689,335 689,336 689,337 689,341 689,343 689,344 689,345 689,347 689,348 689,350 689,351 689,352 690,296 690,298 690,299 690,301 690,302 690,303 690,304 690,306 690,309 690,313 690,315 690,317 690,319 690,321 690,323 690,325 690,328 690,330 690,331 690,332 690,334 690,336 690,340 690,341 690,342 690,343 690,344 690,350 691,297 691,299 691,301 691,303 691,305 691,307 691,309 691,311 691,313 691,315 691,316 691,317 691,320 691,322 691,323 691,325 691,327 691,329 691,331 691,332 691,333 691,335 691,337 691,339 691,341 691,343 691,344 691,345 691,346 692,301 692,302 692,304 692,306 692,307 692,308 692,310 692,312 692,313 692,314 692,315 692,317 692,318 692,319 692,324 692,325 692,327 692,331 692,332 692,334 692,336 692,337 692,339 692,341 692,342 692,343 692,344 692,345 692,346 692,347 692,349 692,351 692,352 693,293 693,294 693,296 693,298 693,299 693,300 693,301 693,303 693,306 693,308 693,309 693,311 693,312 693,313 693,315 693,316 693,317 693,318 693,319 693,320 693,323 693,325 693,326 693,327 693,329 693,330 693,331 693,333 693,337 693,339 693,340 693,342 693,344 693,346 693,347 693,349 695,294 695,295 695,297 695,298 695,300 695,301 695,302 695,304 695,305 695,307 695,309 695,310 695,311 695,312 695,314 695,317 695,319 695,320 695,322 695,324 695,325 695,326 695,328 695,330 695,331 695,332 695,333 695,334 695,335 695,336 695,337 695,338 695,340 695,341 695,343 695,344 695,346 695,348 695,349 695,350 697,306 697,308 697,310 697,311 697,313 697,315 697,317 697,318 697,320 697,321 697,322 697,324 697,326 697,327 697,328 697,329 697,330 697,334 697,336 697,337 697,340 697,342 697,344 697,345 697,346 697,348 698,297 698,299 698,300 698,302 698,304 698,306 698,308 698,309 698,311 698,313 698,317 698,318 698,319 698,321 698,323 698,324 698,325 698,326 698,327 698,331 698,333 698,335 698,337 698,339 698,340 698,341 698,342 698,343 698,344 698,345 698,347 698,349 699,297 699,299 699,300 699,301 699,305 699,306 699,308 699,309 699,310 699,312 699,314 699,315 699,317 699,321 699,322 699,324 699,325 699,326 699,327 699,328 699,329 699,330 699,331 699,334 699,335 699,337 699,340 699,342 699,344 699,345 699,346 699,348 699,349 699,350 699,351 699,353 699,354 699,357 700,300 700,302 700,304 700,305 700,306 700,308 700,310 700,311 700,313 700,315 700,316 700,317 700,319 700,321 700,322 700,323 700,324 700,326 700,328 700,330 700,332 700,334 700,335 700,337 700,338 700,339 700,341 700,343 700,345 700,346 700,347 700,348 700,350 700,352 700,354 700,356 700,357 701,296 701,298 701,300 701,302 701,303 701,304 701,305 701,307 701,309 701,313 701,315 701,317 701,318 701,319 701,321 701,322 701,324 701,327 701,329 701,330 701,332 701,335 701,336 701,340 701,342 701,344 701,345 701,346 701,348 701,350 701,352 701,353 701,354 702,299 702,300 702,301 702,302 702,303 702,305 702,306 702,308 702,309 702,310 702,312 702,315 702,316 702,318 702,319 702,320 702,321 702,323 702,324 702,325 702,327 702,329 702,331 702,332 702,333 702,334 702,335 702,336 702,338 702,340 702,342 702,344 702,345 702,346 702,348 702,350 702,351 702,353 702,354 702,358 702,360 702,362 702,364 704,303 704,305 704,306 704,307 704,310 704,312 704,314 704,315 704,316 704,318 704,319 704,320 704,324 704,325 704,327 704,329 704,331 704,332 704,334 704,335 704,337 704,338 704,339 704,341 704,344 704,346 704,347 704,348 704,350 704,352 704,353 704,354 704,356 704,358 706,301 706,302 706,303 706,305 706,307 706,309 706,311 706,313 706,315 706,317 706,318 706,319 706,320 706,321 706,323 706,324 706,326 706,328 706,329 706,331 706,332 706,333 706,335 706,336 706,337 706,338 706,339 706,342 706,344 706,346 706,348 706,349 706,351 706,353 706,355 706,357 706,358 706,360 707,300 707,302 707,303 707,305 707,307 707,308 707,310 707,311 707,312 707,313 707,315 707,317 707,318 707,321 707,323 707,324 707,325 707,327 707,328 707,331 707,333 707,335 707,337 707,339 707,341 707,342 707,344 707,346 707,348 707,349 707,351 707,353 707,355 707,357 709,313 709,314 709,316 709,318 709,320 709,322 709,323 709,324 709,325 709,326 709,328 709,329 709,330 709,331 709,333 709,335 709,336 709,339 709,341 709,343 709,344 709,346 709,349 709,350 709,352 709,353 709,355 709,356 710,307 710,308 710,309 710,310 710,313 710,314 710,316 710,317 710,319 710,323 710,324 710,325 710,327 710,329 710,331 710,333 710,334 710,335 710,337 710,339 710,341 710,343 710,345 710,347 710,349 710,351 710,353 710,355 710,357 711,288 711,290 711,292 711,295 711,296 711,298 711,300 711,302 711,303 711,305 711,307 711,309 711,311 711,312 711,314 711,315 711,316 711,318 711,320 711,322 711,323 711,325 711,326 711,327 711,329 711,332 711,333 711,334 711,336 711,337 713,289 713,291 713,294 713,296 713,297 713,298 713,299 713,300 713,301 713,303 713,304 713,305 713,306 713,307 713,309 713,310 713,312 713,313 713,314 713,315 713,317 713,320 713,321 713,323 713,325 713,327 713,328 713,330 713,332 713,333 713,334 713,335 713,337 713,339 715,288 715,291 715,293 715,295 715,297 715,298 715,300 715,302 715,304 715,305 715,306 715,308 715,309 715,310 715,311 715,313 715,314 715,315 715,318 715,320 715,322 715,323 715,324 715,325 715,327 715,329 715,330 715,331 715,333 715,335 715,336 715,337 715,338 716,290 716,292 716,294 716,296 716,297 716,298 716,300 716,301 716,303 716,304 716,305 716,308 716,310 716,312 716,313 716,315 716,316 716,318 716,320 716,321 716,323 716,325 716,328 716,330 716,332 716,334 716,335 716,338 716,339 716,340 716,341 717,291 717,292 717,294 717,295 717,296 717,297 717,298 717,300 717,302 717,304 717,306 717,307 717,309 717,312 717,313 717,314 717,315 717,317 717,319 717,321 717,323 717,325 717,326 717,328 717,329 717,331 717,333 717,335 717,336 717,338 717,340 718,293 718,295 718,297 718,299 718,300 718,301 718,303 718,305 718,306 718,308 718,310 718,311 718,313 718,315 718,317 718,319 718,321 718,322 718,323 718,325 718,328 718,330 718,331 718,332 718,333 718,335 718,337 718,340 719,291 719,293 719,294 719,295 719,296 719,297 719,299 719,301 719,303 719,304 719,305 719,306 719,308 719,310 719,312 719,313 719,315 719,317 719,319 719,321 719,322 719,323 719,325 719,329 719,331 720,294 720,296 720,300 720,303 720,305 720,306 720,307 720,309 720,311 720,313 720,315 720,317 720,318 720,319 720,322 720,326 720,330 720,332 720,334 720,335 721,291 721,295 721,296 721,298 721,300 721,301 721,303 721,304 721,306 721,308 721,310 721,311 721,313 721,314 721,315 721,317 721,318 721,319 721,320 721,321 721,326 721,328 721,329 721,330 721,332 721,333 721,334 723,298 723,302 723,303 723,305 723,307 723,309 723,311 723,313 723,314 723,316 723,318 723,319 723,321 723,322 723,324 723,326 723,327 723,328 723,332 723,333 724,293 724,295 724,297 724,299 724,301 724,303 724,305 724,307 724,308 724,309 724,310 724,311 724,313 724,316 724,317 724,318 724,319 724,320 724,321 724,322 724,324 724,325 724,327 724,329 724,331 724,335 725,290 725,291 725,292 725,293 725,294 725,296 725,297 725,298 725,301 725,302 725,304 725,306 725,308 725,310 725,312 725,315 725,317 725,319 725,320 725,322 725,323 725,325 725,327 725,328 725,329 725,331 725,333 725,334 726,292 726,294 726,296 726,298 726,299 726,301 726,303 726,304 726,306 726,307 726,309 726,310 726,312 726,315 726,317 726,318 726,320 726,322 726,323 726,325 728,279 728,280 728,282 728,283 728,284 728,286 728,287 728,289 728,290 728,292 728,294 728,296 728,298 728,300 728,302 728,304 728,305 728,307 728,308 728,310 728,312 728,314 728,316 728,317 728,318 728,319 728,320 728,322 728,323 728,324 728,325 728,326 728,327 728,328 728,330 728,332 728,334 728,336 728,338 728,340 728,341 730,282 730,284 730,286 730,287 730,289 730,291 730,293 730,295 730,296 730,298 730,299 730,300 730,302 730,304 730,305 730,306 730,309 730,313 730,314 730,315 730,317 730,320 730,321 730,322 730,323 730,326 730,328 730,330 730,332 730,333 730,335 730,336 730,340 730,341 730,342 732,278 732,279 732,281 732,282 732,287 732,289 732,291 732,292 732,293 732,294 732,296 732,297 732,298 732,299 732,301 732,302 732,303 732,304 732,306 732,310 732,311 732,312 732,313 732,315 732,317 732,318 732,319 732,320 732,324 732,325 732,326 732,327 732,328 732,330 732,331 732,333 732,335 732,336 734,281 734,283 734,285 734,286 734,288 734,289 734,290 734,292 734,293 734,294 734,296 734,298 734,299 734,301 734,303 734,304 734,306 734,308 734,309 734,310 734,312 734,313 734,315 734,316 734,317 734,319 734,320 734,322 734,323 734,325 734,327 734,328 734,330 734,332 734,334 736,281 736,282 736,284 736,286 736,288 736,290 736,291 736,293 736,294 736,296 736,297 736,298 736,299 736,300 736,302 736,304 736,305 736,307 736,309 736,310 736,312 736,313 736,314 736,316 736,317 736,319 736,320 736,322 736,324 736,326 736,327 736,329 736,330 736,332 736,333 736,334 736,335 736,336 736,337 736,339 736,340 736,341 734,341 734,345 734,349 734,355 734,357 734,361 734,363 734,369 734,371 734,375 734,377 737,340 737,342 737,344 737,348 737,350 737,352 737,354 737,360 737,362 737,364 737,366 738,339 738,341 738,343 738,345 738,347 738,349 738,351 738,353 738,357 738,361 738,363 738,365 738,367 738,292 738,294 738,296 738,298 738,300 738,302 738,303 738,304 738,306 738,307 738,308 738,309 738,310 738,312 738,314 738,319 738,320 738,322 738,323 738,325 738,327 738,329 738,331 738,333 738,334 739,287 739,288 739,289 739,291 739,293 739,294 739,295 739,297 739,300 739,302 739,303 739,304 739,305 739,306 739,307 739,309 739,310 739,311 739,312 739,314 739,316 739,317 739,319 739,320 739,322 739,323 739,324 739,325 739,327 739,329 739,331 739,332 739,333 740,295 740,296 740,298 740,299 740,301 740,302 740,303 740,304 740,306 740,308 740,310 740,312 740,313 740,314 740,316 740,318 740,320 740,321 740,322 740,323 740,324 740,326 740,328 740,329 740,330 740,332 740,335 740,336 742,292 742,294 742,296 742,298 742,300 742,301 742,302 742,303 742,305 742,307 742,308 742,309 742,311 742,313 742,315 742,317 742,319 742,320 742,322 742,324 742,326 742,328 742,331 742,332 743,284 743,285 743,286 743,287 743,293 743,295 743,296 743,298 743,300 743,302 743,303 743,305 743,306 743,308 743,309 743,311 743,312 743,314 743,315 743,317 743,319 743,321 743,323 743,325 743,326 743,327 743,328 743,330 743,332 743,334 743,336 743,338 744,287 744,289 744,291 744,293 744,294 744,296 744,297 744,299 744,301 744,302 744,303 744,304 744,306 744,308 744,309 744,310 744,312 744,313 744,314 744,315 744,317 744,318 744,321 744,322 744,324 744,326 744,328 744,329 744,330 744,332 744,333 744,335 746,284 746,288 746,289 746,290 746,293 746,295 746,296 746,297 746,299 746,301 746,302 746,303 746,305 746,307 746,308 746,309 746,310 746,312 746,313 746,315 746,316 746,318 746,321 746,322 746,324 746,325 746,326 746,327 746,329 746,333 746,334 746,335 746,336 747,284 747,286 747,287 747,288 747,289 747,291 747,292 747,293 747,295 747,297 747,299 747,301 747,303 747,305 747,306 747,308 747,309 747,311 747,314 747,315 747,316 747,317 747,319 747,320 747,325 747,327 747,329 747,330 747,331 747,333 747,335 748,285 748,286 748,290 748,292 748,293 748,295 748,296 748,298 748,300 748,302 748,303 748,305 748,307 748,309 748,310 748,312 748,313 748,315 748,316 748,318 748,320 748,323 748,327 748,329 748,330 748,332 748,333 748,334 748,335 749,286 749,287 749,288 749,290 749,292 749,293 749,295 749,296 749,298 749,300 749,302 749,304 749,305 749,307 749,309 749,310 749,312 749,314 749,315 749,316 749,317 749,319 749,320 749,322 749,323 749,325 749,326 749,328 749,330 749,331 749,333 749,335 740,334 740,338 740,342 740,344 740,348 740,350 741,345 744,336 744,338 744,342 744,344 748,341 752,299 752,300 752,301 752,305 752,306 752,310 752,312 752,313 752,315 752,319 752,321 752,323 752,324 752,325 752,326 752,327 752,328 752,329 752,332 752,333 752,336 752,338 752,342 752,345 752,347 752,349 752,350 752,351 752,353 752,354 752,356 752,357 752,358 752,360 753,299 753,300 753,304 753,305 753,307 753,309 753,310 753,311 753,312 753,314 753,316 753,318 753,320 753,322 753,323 753,324 753,326 753,327 753,328 753,329 753,330 753,331 753,332 753,333 753,334 753,335 753,337 753,338 753,340 753,344 753,345 753,346 753,347 753,349 753,351 753,353 753,354 753,355 755,316 755,320 755,322 755,324 755,326 755,327 755,330 755,331 755,332 755,334 755,336 755,338 755,339 755,341 755,343 755,345 755,346 755,347 755,349 755,350 755,351 755,353 755,355 755,357 755,359 755,362 755,363 755,365 755,366 755,368 755,369 755,371 758,332 758,334 758,336 758,337 758,340 758,341 758,342 758,344 758,345 758,346 758,348 758,350 758,352 758,353 758,354 758,356 758,358 758,359 758,360 758,362 758,364 758,366 758,368 758,369 758,370 758,372 758,373 758,376 758,378 758,380 758,381 758,383 758,386 758,387 758,388 758,389 758,391 758,393 758,396 759,337 759,338 759,339 759,340 759,342 759,343 759,345 759,347 759,349 759,350 759,352 759,354 759,357 759,359 759,361 759,362 759,364 759,366 759,367 759,369 759,371 759,373 759,375 759,377 759,381 759,383 759,385 759,386 759,387 759,388 760,339 760,340 760,342 760,343 760,345 760,347 760,348 760,349 760,350 760,352 760,353 760,354 760,356 760,358 760,359 760,361 760,363 760,366 760,368 760,369 760,371 760,373 760,374 760,375 760,377 760,379 760,381 760,382 760,384 760,385 760,387 760,388 760,389 760,390 760,392 760,393 761,337 761,338 761,341 761,342 761,344 761,346 761,347 761,348 761,349 761,350 761,351 761,353 761,355 761,357 761,358 761,359 761,363 761,365 761,367 761,368 761,369 761,371 761,373 761,375 761,376 761,377 761,379 761,380 761,383 761,385 761,386 761,387 761,388 761,390 761,392 761,394 761,396 761,398 762,338 762,339 762,341 762,342 762,344 762,345 762,346 762,353 762,354 762,356 762,357 762,359 762,361 762,363 762,364 762,366 762,369 762,371 762,373 762,374 762,375 762,377 762,378 762,379 762,380 762,382 762,384 762,386 762,387 762,389 762,391 762,392 762,394 762,398 762,399 764,321 764,322 764,325 764,326 764,327 764,329 764,330 764,332 764,334 764,335 764,337 764,339 764,340 764,342 764,343 764,344 764,346 764,348 764,352 764,353 764,357 764,358 764,360 764,362 764,363 764,365 764,367 764,369 764,371 764,372 764,374 764,375 764,377 764,381 764,383 764,385 764,387 764,388 764,389 764,391 764,393 764,395 764,396 764,398 764,400 766,322 766,324 766,325 766,326 766,328 766,329 766,330 766,331 766,332 766,334 766,335 766,336 766,338 766,340 766,342 766,344 766,345 766,347 766,349 766,350 766,352 766,355 766,357 766,358 766,360 766,361 766,362 766,363 766,365 766,369 766,371 766,372 766,376 766,379 766,380 766,382 766,383 766,385 766,386 766,388 766,390 766,391 766,393 766,394 766,396 766,398 766,399 766,400 766,401 768,324 768,325 768,327 768,331 768,332 768,335 768,337 768,339 768,340 768,341 768,343 768,345 768,346 768,349 768,350 768,351 768,353 768,355 768,358 768,359 768,361 768,362 768,363 768,366 768,368 768,369 768,373 768,375 768,376 768,378 768,379 768,381 768,385 768,387 770,321 770,324 770,326 770,327 770,329 770,330 770,332 770,334 770,335 770,337 770,339 770,340 770,342 770,343 770,344 770,345 770,346 770,348 770,349 770,351 770,352 770,354 770,355 770,356 770,360 770,362 770,363 770,364 770,365 770,369 770,371 770,373 770,376 770,377 770,379 770,382 770,383 770,384 770,385 770,387 770,388 770,392 770,393 770,396 770,400 772,319 772,321 772,323 772,325 772,327 772,328 772,330 772,331 772,333 772,335 772,338 772,339 772,341 772,342 772,344 772,345 772,347 772,349 772,350 772,351 772,353 772,355 772,356 772,357 772,359 772,361 772,363 772,364 772,367 772,369 772,371 772,372 772,373 772,375 772,377 772,379 772,381 772,383 772,384 772,385 772,387 772,388 772,390 772,392 772,393 772,394 772,396 772,398 772,400 772,401 772,403 767,388 767,390 767,394 768,392 768,396 768,398 770,386 770,388 770,390 770,392 770,396 770,398 772,387 772,389 772,391 772,395 772,397 772,399 772,401 772,403 177,290 181,364 183,359 183,305 184,368 185,361 185,297 185,303 188,365 188,369 193,363 195,349 198,286 198,292 202,370 202,374 203,315 203,323 205,361 205,365 206,305 207,304 211,356 211,358 217,399 217,403 217,409 220,402 217,335 222,381 221,335 221,339 224,396 224,336 224,340 224,342 227,387 227,389 228,341 231,343 232,351 232,355 236,390 236,394 237,344 241,413 240,326 240,330 247,339 250,338 253,393 253,397 254,403 255,387 258,400 261,392 261,351 264,349 264,353 268,389 270,383 277,360 280,319 281,323 286,364 282,321 287,337 287,339 289,337 288,304 294,386 293,327 296,385 297,333 301,386 303,384 301,324 301,330 308,360 308,368 309,309 309,311 311,350 311,358 311,360 313,357 314,356 311,304 317,349 317,351 317,296 317,302 319,302 322,352 322,354 322,293 322,297 324,372 327,369 328,367 326,301 326,311 329,300 329,306 331,343 331,347 330,294 334,304 334,310 337,310 341,397 343,335 343,341 346,336 346,338 342,292 343,295 344,293 348,333 354,329 347,287 358,375 359,377 359,381 361,376 363,332 363,334 368,325 364,288 368,285 369,389 369,324 371,316 371,320 371,328 372,327 373,380 376,383 373,325 373,327 373,331 376,329 378,349 378,353 378,359 379,285 384,338 388,335 388,341 383,279 383,281 389,379 390,297 395,302 398,267 399,309 399,335 402,312 402,320 402,332 402,338 404,317 405,313 405,317 405,329 400,267 405,266 408,305 408,307 408,315 408,317 408,321 412,322 412,324 412,330 413,320 413,328 408,270 415,263 417,328 417,330 417,336 417,340 420,316 420,332 420,336 423,316 423,328 423,344 423,346 419,263 423,267 423,271 423,273 426,318 426,320 426,324 426,336 429,320 429,322 429,326 431,311 431,317 431,319 431,337 434,311 434,313 434,325 434,329 434,339 434,343 438,330 439,334 439,338 439,340 442,347 444,317 440,274 444,269 447,320 447,338 448,318 448,334 451,325 451,337 451,270 454,267 454,281 456,309 456,315 456,323 456,325 456,335 460,316 461,310 461,312 461,322 461,336 461,340 456,261 456,265 463,317 463,325 463,329 463,331 465,314 465,320 465,324 465,330 465,340 467,330 467,334 468,323 468,327 472,322 472,338 476,320 476,328 476,330 478,315 478,317 478,319 478,333 464,261 466,262 468,259 470,259 470,263 478,254 476,318 476,330 476,336 476,338 476,340 477,322 477,326 477,330 477,332 477,340 477,268 477,270 480,314 480,318 480,322 480,326 480,328 480,336 480,338 483,315 483,317 483,323 483,331 483,341 483,345 481,272 485,320 485,334 487,313 487,323 487,325 487,327 487,329 491,331 485,247 490,251 495,310 495,318 495,324 495,326 495,338 499,308 499,310 499,314 499,330 501,335 501,337 502,315 502,321 502,337 505,307 505,319 505,321 505,339 506,314 506,318 506,320 506,324 506,332 498,253 508,327 509,323 509,345 512,323 512,329 512,331 512,337 512,339 512,341 512,347 508,266 508,268 516,339 516,351 517,329 517,331 518,326 518,330 518,346 518,348 518,352 521,339 521,341 523,334 523,338 523,340 524,327 524,333 524,339 516,269 516,271 518,272 523,275 525,339 525,345 526,324 526,330 526,346 526,348 527,332 527,342 527,344 527,350 529,334 529,338 531,325 531,345 536,330 536,336 536,354 536,356 539,330 539,332 539,336 539,348 539,358 540,329 540,339 540,345 542,332 542,352 546,350 546,356 540,271 548,328 548,338 548,340 548,342 548,346 549,322 549,336 549,340 549,342 549,352 552,327 552,349 552,353 554,327 554,333 554,355 551,274 556,337 556,339 556,351 560,326 560,330 560,334 560,340 560,342 561,340 562,328 562,330 563,322 563,326 563,334 556,267 561,264 564,264 565,304 565,306 565,316 565,318 565,326 569,312 569,314 569,330 566,260 568,259 570,267 572,299 572,301 572,303 572,309 572,311 572,315 572,321 572,327 573,310 573,312 573,314 573,322 573,324 574,318 574,322 578,304 578,326 578,328 578,330 580,307 580,327 571,257 576,260 578,250 580,255 580,261 581,333 581,347 582,318 582,322 582,342 586,331 586,337 587,315 587,317 587,323 587,343 587,345 586,272 589,389 589,395 589,403 592,398 591,320 593,318 594,392 594,394 594,396 595,394 599,399 600,396 601,387 605,386 605,388 605,390 608,380 601,302 602,300 604,302 607,306 612,387 613,393 611,310 615,311 616,306 617,364 620,373 620,375 621,371 622,374 617,306 617,312 624,357 630,282 631,288 631,290 633,344 633,346 636,344 640,340 634,288 634,294 636,287 636,293 645,355 645,298 653,362 653,364 657,360 657,364 659,363 662,360 659,313 662,311 662,315 666,314 666,316 666,318 667,356 667,362 672,362 676,363 667,297 671,296 677,357 681,360 682,353 680,285 680,293 687,349 687,355 691,354 695,359 698,286 698,290 702,291 707,358 707,364 707,368 707,370 709,358 703,293 708,298 708,300 711,340 718,338 714,281 722,283 722,285 726,283 726,289 726,291 731,337 731,341 731,343 736,273 736,279 737,331 737,335 739,337 741,338 744,336 745,345 748,335 752,300 760,396 760,404 757,327 759,332 761,332 763,401 763,403 765,405 772,408 764,317 766,312 766,318 770,320 772,317 772,319 175,115 182,108 188,112 192,108 211,110 215,106 209,124 196,131 184,143 194,142 224,149 228,165 237,165 249,163 226,173 232,175 230,180 251,173 241,178 245,178 247,187 264,191 268,191 270,191 260,196 258,202 256,209 273,170 289,178 292,191 290,207 283,108 281,115 274,129 293,134 272,140 277,140 279,143 253,145 266,145 296,147 297,152 182,205 182,217 178,228 197,224 220,217 217,221 222,224 243,237 180,240 190,240 181,246 193,246 196,246 288,219 282,224 292,223 290,226 288,233 289,235 291,237 290,240 278,242 285,246 289,248 312,113 302,127 310,124 327,122 329,120 306,145 298,152 300,154 315,154 338,145 346,147 365,149 376,122 376,133 388,137 403,147 349,166 308,178 318,189 320,200 342,196 352,178 356,184 356,187 360,182 360,184 367,172 373,173 378,178 386,178 387,173 385,186 385,187 381,189 379,198 381,202 387,202 392,194 396,194 398,178 400,168 402,169 404,172 408,170 409,172 414,173 415,176 414,177 412,178 404,180 406,191 407,193 411,193 412,189 420,193 421,196 422,184 423,187 424,175 400,200 401,202 399,205 394,207 400,205 411,202 410,205 415,203 415,207 423,203 412,210 414,212 420,210 421,212 383,212 394,216 400,219 408,216 419,212 331,216 336,217 336,223 358,214 360,216 365,217 347,226 351,226 360,228 334,230 338,235 329,237 347,235 352,235 354,233 357,235 357,237 363,233 343,242 349,240 357,240 363,242 373,242 321,242 311,248 325,247 347,247 354,247 359,246 363,247 384,223 387,221 392,224 408,221 408,226 409,228 399,233 404,233 405,231 411,235 387,237 388,235 417,235 419,235 421,233 423,235 420,221 422,221 420,224 381,248 389,248 403,247 419,248 503,112 538,110 500,122 460,129 501,134 487,137 472,140 550,138 515,142 439,143 457,145 463,143 506,147 449,149 448,154 470,154 531,152 448,158 451,159 488,156 493,158 498,158 431,161 431,166 454,165 459,163 468,165 469,164 472,165 487,163 491,161 493,165 495,166 498,168 503,164 505,163 506,163 525,166 523,168 539,166 450,168 456,168 457,170 465,170 470,170 464,173 472,173 474,173 485,170 487,170 482,175 484,175 485,173 494,172 502,172 506,173 510,172 514,175 525,173 530,172 535,173 545,172 550,172 520,175 541,175 540,176 530,177 425,175 434,175 444,175 427,178 437,178 454,178 456,177 476,180 491,177 496,178 500,178 500,182 502,184 489,182 512,182 519,182 518,186 529,186 535,178 536,186 543,184 463,184 462,186 450,184 436,184 440,186 431,189 429,191 427,193 444,189 436,193 440,193 445,194 426,196 464,191 474,191 482,191 480,193 489,191 499,189 511,191 548,189 530,194 532,194 522,198 520,198 457,196 459,196 450,196 452,196 461,198 472,198 433,200 442,198 427,200 425,202 426,202 428,205 431,203 433,207 436,207 448,202 446,205 448,207 450,209 452,209 466,203 476,202 477,203 479,202 480,202 482,203 485,207 490,209 505,200 510,202 510,205 518,202 524,202 531,203 535,205 536,203 526,207 524,209 518,210 434,210 472,212 474,212 476,214 480,210 481,214 481,216 500,212 507,214 519,214 524,212 532,212 533,214 529,216 530,216 535,217 539,217 543,217 546,214 432,216 436,217 446,219 447,217 463,219 501,217 488,217 489,221 451,223 452,224 463,223 471,224 471,228 436,226 519,221 520,220 521,218 526,221 527,223 529,224 534,223 538,226 542,224 549,224 550,221 513,228 521,228 505,230 428,230 433,231 437,233 442,235 443,237 444,239 445,231 447,231 446,235 454,235 462,231 466,237 471,235 476,233 478,233 480,237 483,233 486,237 490,233 458,240 466,240 478,240 443,246 449,244 452,244 503,240 507,240 511,237 516,242 538,233 545,230 545,233 547,235 541,244 542,246 543,248 534,246 527,248 513,248 483,248 485,248 487,248 562,112 604,112 591,120 597,120 595,133 614,131 627,113 642,124 656,131 661,122 663,115 671,110 675,120 677,126 569,140 564,143 574,142 574,143 582,143 572,152 593,154 597,154 621,158 567,158 558,159 568,163 570,163 574,165 580,165 578,170 556,170 563,172 552,173 555,175 556,175 567,175 571,173 576,175 588,173 590,175 589,180 566,178 570,182 573,182 582,182 583,184 579,186 583,186 608,175 610,178 562,187 564,187 568,189 558,191 562,193 553,194 557,196 565,194 573,196 573,198 578,191 581,193 588,196 572,202 587,203 586,207 581,209 572,209 567,210 604,200 613,187 619,193 631,187 636,175 638,178 638,180 639,191 646,191 667,178 632,203 634,210 636,209 653,209 655,210 651,214 645,216 670,216 676,205 622,216 626,216 629,217 632,217 638,217 640,217 678,166 552,217 553,221 552,224 560,224 562,216 559,219 561,219 565,217 576,219 588,217 571,221 570,228 574,228 586,228 568,231 571,235 575,233 577,239 589,233 604,231 609,233 552,231 554,239 555,239 558,244 573,244 585,242 613,239 612,246 616,246 616,248 621,237 627,230 631,230 634,230 637,231 636,221 632,224 629,235 630,237 628,239 634,235 636,239 631,240 630,242 629,244 625,244 626,248 632,248 639,248 641,248 644,233 647,233 649,231 659,228 654,248 664,244 679,126 711,124 713,124 732,124 766,115 756,129 707,134 709,140 701,143 711,147 741,138 756,145 718,158 722,161 729,163 731,163 754,159 768,166 680,166 728,168 736,168 734,172 731,177 727,182 734,184 735,186 735,189 735,191 742,184 743,184 770,184 683,182 685,184 682,191 687,194 692,191 704,189 724,189 719,194 718,196 696,196 695,198 694,198 722,200 726,198 728,196 730,198 732,200 713,202 713,203 734,203 700,205 704,207 714,207 718,207 732,207 685,209 683,210 684,212 736,210 722,212 723,216 726,214 732,216 735,216 744,207 745,210 750,214 748,216 766,207 764,212 764,214 763,216 702,216 701,219 685,219 716,217 713,221 713,223 716,224 718,223 720,223 715,228 717,228 725,226 732,221 733,221 740,223 747,224 749,224 748,221 681,224 680,226 685,228 733,228 736,228 739,230 729,230 727,231 724,231 722,231 717,233 702,233 697,233 694,237 683,239 681,242 680,244 688,244 689,248 709,244 711,246 715,244 716,246 721,240 722,244 725,242 727,240 728,237 726,246 737,246 740,239 742,237 742,242 743,244 747,240 750,240 748,244 747,248 750,248 748,233 756,248 767,235 768,235 770,233 767,240 722,246 176,254 178,252 183,253 184,260 187,263 183,268 183,272 177,276 198,263 198,267 203,265 203,256 207,253 208,256 211,251 209,261 215,258 215,268 209,274 204,276 205,277 206,279 208,282 210,279 212,284 216,281 211,277 229,265 231,277 235,276 234,282 252,281 187,283 188,284 266,267 273,256 278,256 279,267 281,272 282,271 285,274 287,276 288,258 289,261 290,269 291,258 295,252 278,277 276,282 274,288 276,293 275,295 282,284 281,286 287,285 291,283 293,293 295,289 284,295 282,300 281,303 279,305 277,311 280,314 276,316 274,319 272,324 270,301 267,309 257,309 247,316 254,316 255,316 239,306 220,306 229,314 228,316 227,318 210,301 211,297 214,296 210,309 192,304 186,297 187,291 184,295 194,295 234,323 224,331 233,332 175,371 176,376 178,379 180,381 182,384 183,386 186,387 190,388 194,380 192,374 191,372 188,373 187,367 188,366 196,376 198,376 198,385 200,368 204,380 205,382 207,371 209,366 210,376 211,387 203,392 205,392 208,392 179,393 181,394 183,392 179,398 192,398 279,371 280,373 282,375 285,381 287,383 289,379 291,376 291,387 288,369 294,381 296,383 278,387 279,389 280,392 282,394 284,398 288,396 274,392 272,398 294,392 314,254 313,260 314,267 310,271 309,274 311,277 315,280 317,281 310,284 311,286 314,293 315,294 307,297 308,305 298,303 307,318 299,325 327,252 324,251 345,251 349,251 353,252 358,253 365,253 351,256 351,259 347,269 351,275 354,277 361,280 370,275 373,283 349,283 364,288 366,289 349,291 336,312 332,299 383,271 387,265 391,267 392,261 394,263 402,259 408,272 419,265 422,258 383,275 392,271 386,283 388,284 376,302 374,313 375,323 373,329 323,301 304,381 306,385 308,389 310,392 313,389 311,394 314,396 303,398 325,379 333,368 333,396 341,387 345,392 348,392 350,387 351,383 352,379 355,378 357,376 360,378 359,373 350,368 348,361 353,364 357,356 362,357 366,349 386,383 399,376 401,381 400,385 399,388 401,392 404,396 405,370 407,373 408,376 409,374 411,381 406,383 414,387 404,379 405,357 409,355 412,361 409,342 405,331 403,344 418,376 420,381 422,383 423,385 421,396 418,398 414,364 415,370 425,256 433,262 436,261 446,267 443,267 478,258 490,251 503,251 513,251 528,253 529,251 541,251 546,258 547,265 548,256 549,259 517,267 536,271 544,271 429,364 428,370 433,373 432,379 437,367 441,368 440,374 443,379 445,374 447,373 452,378 457,379 463,375 471,374 474,374 476,374 479,367 477,361 474,359 435,382 442,383 446,384 445,387 440,392 433,392 430,396 427,387 425,383 448,392 454,392 457,387 460,385 464,389 468,394 472,398 476,389 478,385 480,383 484,380 487,381 489,379 490,372 489,366 489,383 493,384 496,387 500,390 502,394 506,392 511,387 513,383 515,379 519,379 524,381 526,383 528,379 530,376 532,379 536,376 541,374 545,379 547,387 549,392 542,383 536,387 532,392 528,396 524,392 519,394 517,398 511,396 504,398 496,398 489,396 485,394 480,392 478,398 468,398 461,396 455,398 446,398 437,398 428,359 500,361 502,368 506,370 508,374 513,375 519,370 521,366 526,361 530,364 534,366 536,368 541,364 542,370 450,361 452,357 459,359 463,361 468,358 472,355 478,354 483,351 446,355 437,353 554,256 557,255 561,254 563,251 569,254 573,255 588,254 554,266 560,262 604,259 604,266 607,271 613,262 616,261 615,251 623,254 628,254 631,259 632,261 635,251 638,251 646,251 620,268 618,269 626,268 627,274 629,274 632,271 634,267 642,267 644,267 639,274 633,277 634,281 623,277 620,281 614,279 616,276 606,277 598,281 603,286 602,289 605,293 606,295 609,296 604,296 615,286 623,285 618,293 620,298 616,304 607,302 603,307 605,308 639,284 655,283 662,284 649,289 669,260 668,267 675,262 676,270 671,270 673,274 657,303 662,303 593,301 553,366 556,374 558,372 560,367 563,371 562,378 559,381 560,384 554,384 553,389 556,392 562,392 569,389 573,387 575,389 579,385 584,387 586,381 582,379 578,374 573,376 569,379 573,370 572,368 585,398 567,398 627,368 631,369 634,368 637,367 640,369 644,372 646,373 633,376 638,379 640,378 629,379 626,381 624,383 633,383 626,387 629,389 631,392 625,394 620,396 616,398 612,392 616,392 609,396 603,398 640,387 644,389 646,383 654,376 655,370 663,368 662,376 662,384 668,383 670,383 675,383 677,387 672,392 665,392 651,392 655,398 681,253 688,251 696,255 698,254 702,253 682,263 694,259 695,267 697,271 687,269 691,277 686,280 689,282 700,283 705,271 703,275 713,256 714,259 713,267 717,267 720,253 725,255 723,258 722,263 724,271 728,262 730,265 732,258 733,253 738,251 742,254 741,259 740,262 743,266 745,269 747,253 752,256 751,262 752,267 756,273 743,274 742,277 715,277 718,276 722,275 726,280 730,282 732,277 736,274 755,251 764,262 765,265 769,268 771,268 766,273 769,273 765,281 768,282 769,285 766,289 771,290 753,282 754,279 767,302 767,305 771,305 771,311 760,312 764,314 766,318 754,300 755,303 680,355 683,359 688,361 691,360 681,370 679,374 680,379 683,381 686,380 689,379 692,380 695,379 696,374 699,375 703,371 704,374 706,380 701,383 706,383 711,387 713,383 713,379 716,380 717,374 718,370 724,379 726,370 728,369 730,372 732,372 722,385 726,387 730,386 736,384 739,379 741,374 745,370 747,366 743,361 725,355 726,359 729,361 719,350 717,366 722,381 737,396 734,394 722,392 720,398 715,396 711,396 703,392 700,389 694,387 690,388 687,392 683,393 685,398 691,398 743,387 745,385 747,383 750,392 754,398 750,396 743,394 176,408 203,403 227,413 257,409 259,401 259,404 270,401 276,401 278,403 281,404 288,401 289,403 293,404 288,408 291,411 285,413 272,411 276,406 275,408 177,427 182,433 182,443 193,424 196,431 203,429 203,438 209,425 211,429 215,425 229,433 230,434 227,440 239,422 243,422 242,427 244,429 240,436 252,427 254,431 256,443 255,447 236,443 231,449 233,450 234,450 232,452 235,455 247,454 269,425 270,429 266,441 267,440 273,440 272,452 277,452 280,450 278,431 282,433 285,436 278,434 288,429 290,431 292,427 292,431 290,434 296,443 220,464 218,401 218,403 218,405 217,408 218,410 217,412 218,415 217,417 218,419 217,421 218,423 217,425 219,427 217,432 219,432 221,432 217,435 218,436 217,439 220,439 222,439 217,441 219,443 217,445 218,446 220,447 221,449 217,450 219,451 217,452 220,453 222,454 218,455 220,457 222,456 220,458 221,459 242,401 243,401 242,402 243,403 242,405 243,405 242,408 243,409 240,411 243,445 240,448 243,449 245,450 240,452 242,453 244,453 239,454 241,455 243,456 245,455 240,458 243,458 242,460 244,461 241,461 246,454 239,456 303,400 324,401 311,404 313,406 311,408 314,413 320,415 332,411 334,418 325,425 327,425 331,424 339,417 339,420 344,404 349,410 347,413 349,415 350,417 351,418 349,420 351,422 349,400 355,404 307,443 313,440 314,445 318,440 320,438 329,443 334,440 338,440 340,436 342,440 340,443 340,446 340,449 340,452 349,436 352,440 356,440 356,441 360,431 360,434 366,434 367,438 361,443 374,420 376,429 373,431 381,425 383,422 386,410 386,413 387,415 390,420 402,418 408,420 412,408 414,411 411,410 404,401 406,404 408,401 422,404 424,425 415,424 412,424 414,420 408,425 408,427 408,431 409,433 415,433 403,431 403,436 399,434 400,434 395,436 393,434 392,438 393,429 392,431 390,427 388,427 386,427 385,434 386,433 387,436 381,431 381,440 373,445 374,445 375,445 373,447 374,450 379,447 391,445 417,440 418,441 427,404 429,404 431,406 433,406 434,408 436,409 440,409 443,404 445,404 450,408 454,415 454,404 456,406 457,408 459,413 463,404 464,408 464,401 466,401 470,403 474,403 466,411 474,415 476,409 480,409 484,401 485,406 485,417 426,425 431,425 433,422 436,422 431,429 431,431 438,429 440,425 440,433 448,425 448,431 450,429 451,429 455,429 455,436 457,431 459,433 461,434 462,424 465,433 469,433 470,431 472,431 472,433 476,425 482,434 487,424 488,425 487,427 489,427 493,401 494,402 493,408 498,404 500,404 502,408 504,408 506,409 507,413 511,406 512,401 514,401 516,402 519,401 519,408 514,417 514,422 500,422 501,420 507,425 506,429 504,431 512,427 516,440 525,427 525,434 530,434 531,431 530,411 532,404 535,406 539,403 539,404 541,408 540,417 545,415 549,415 550,415 548,420 550,422 547,424 542,427 548,427 546,429 541,433 541,434 545,436 547,434 549,436 551,436 554,401 556,401 570,404 574,406 564,409 579,401 585,400 595,401 604,401 604,408 590,411 553,415 554,418 558,417 571,418 584,422 587,425 567,425 569,425 573,427 573,429 574,431 567,429 582,429 582,431 555,427 557,429 558,433 559,434 562,436 570,434 594,429 591,434 593,434 592,438 591,441 593,440 593,445 600,444 601,445 601,447 603,444 606,445 604,452 604,427 606,438 609,415 612,427 613,431 612,436 614,440 613,441 612,446 618,445 619,441 622,436 620,425 619,415 619,408 613,404 615,406 615,409 616,408 617,403 620,401 628,401 631,411 634,406 629,418 634,420 631,431 634,434 636,434 640,431 641,434 644,436 638,438 638,440 639,443 646,441 653,440 655,425 649,418 642,408 644,408 647,404 649,401 638,400 660,408 660,420 664,433 659,450 649,471 667,404 670,404 668,413 669,411 676,404 677,403 678,449 679,402 686,401 685,406 696,401 697,402 709,401 714,401 716,401 718,404 720,404 726,404 728,401 722,408 723,411 726,409 713,409 714,408 713,411 712,413 715,408 713,417 713,420 709,422 718,422 719,418 725,418 727,418 728,417 730,417 732,420 734,420 735,417 732,424 738,425 738,409 741,401 742,403 743,406 741,400 747,411 756,415 759,417 761,418 763,424 764,411 763,408 767,406 770,401 770,403 770,405 771,408 771,415 771,422 771,425 771,431 769,434 759,429 759,431 753,425 750,427 746,427 744,434 739,438 738,441 738,443 743,441 741,438 752,445 756,440 759,441 756,445 758,445 760,445 763,443 764,440 768,440 767,443 763,445 766,447 770,449 771,449 759,449 762,450 762,452 764,457 770,455 746,494 704,427 704,431 701,434 700,436 701,440 703,445 695,431 692,433 694,438 687,436 687,438 683,436 682,433 685,431 688,447 679,449 712,433 713,440 717,434 720,429 724,433" fill="none" stroke="none" marker-start="url(#m)" marker-mid="url(#m)" marker-end="url(#m)"/>
<path d="M171.5 106V558.5H805" stroke="#363636" stroke-width="1" fill="none"/>
<path d="M171.5 558v9.5M234.5 558v9.5M298.5 558v9.5M361.5 558v9.5M424.5 558v9.5M488.5 558v9.5M551.5 558v9.5M614.5 558v9.5M677.5 558v9.5M741.5 558v9.5M804.5 558v9.5M171 558.5h-9M171 501.5h-9M171 445.5h-9M171 388.5h-9M171 332.5h-9M171 275.5h-9M171 219.5h-9M171 162.5h-9M171 106.5h-9" stroke="#363636" stroke-width="1" fill="none"/>
<g font-size="17.5"><text transform="translate(171.5 585.3) scale(0.98 1)" text-anchor="middle">0</text><text transform="translate(298.1 585.3) scale(0.98 1)" text-anchor="middle">5</text><text transform="translate(424.7 585.3) scale(0.98 1)" text-anchor="middle">10</text><text transform="translate(551.3 585.3) scale(0.98 1)" text-anchor="middle">15</text><text transform="translate(677.9 585.3) scale(0.98 1)" text-anchor="middle">20</text><text transform="translate(804.5 585.3) scale(0.98 1)" text-anchor="middle">25</text><text transform="translate(158.6 564.9) scale(1 1)" text-anchor="end">0.0</text><text transform="translate(158.6 451.9) scale(1 1)" text-anchor="end">0.5</text><text transform="translate(158.6 338.9) scale(1 1)" text-anchor="end">1.0</text><text transform="translate(158.6 225.9) scale(1 1)" text-anchor="end">1.5</text><text transform="translate(158.6 112.9) scale(1 1)" text-anchor="end">2.0</text></g>
<text x="488" y="71" font-size="20" text-anchor="middle" xml:space="preserve">Record:  m268a</text>
<text x="488" y="636" font-size="20" text-anchor="middle">Time (hour)</text>
<text transform="translate(100 332) rotate(-90)" font-size="20" text-anchor="middle">RR Interval (second)</text>
</svg>
</body></html>
